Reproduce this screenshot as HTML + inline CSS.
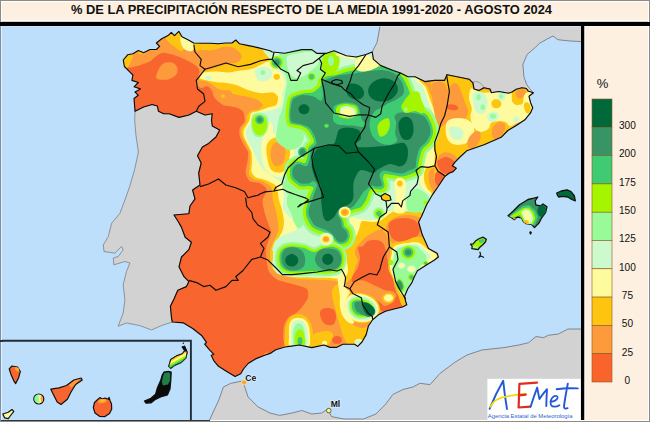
<!DOCTYPE html>
<html><head><meta charset="utf-8">
<style>
html,body{margin:0;padding:0;width:650px;height:422px;overflow:hidden;background:#fdf0e0;}
body{position:relative;font-family:"Liberation Sans",sans-serif;}
#frame{position:absolute;left:0;top:0;width:648px;height:420px;border:1px solid #8e8a86;box-shadow:inset 0 0 0 1px #fff;pointer-events:none;z-index:9}
#title{position:absolute;left:71px;top:1.7px;height:16px;line-height:16px;font-weight:bold;font-size:12.88px;color:#111;white-space:nowrap}
#map{position:absolute;left:0;top:0}
.lg{position:absolute;left:614.9px;width:25px;text-align:center;font-size:10.1px;color:#111;line-height:10px}
#pct{position:absolute;left:593.5px;top:77px;width:18px;text-align:center;font-size:13px;line-height:14px;color:#111}
</style></head><body>
<svg id="map" width="650" height="422" viewBox="0 0 650 422">
<defs>
<clipPath id="mapclip"><rect x="1" y="25" width="580" height="396"/></clipPath>
</defs>
<!-- sea -->
<rect x="1" y="25" width="580" height="396" fill="#bedffb"/>
<g id="mapg" clip-path="url(#mapclip)">

<path d="M135.0,111.3 L134.7,120.0 L135.9,134.8 L138.4,152.0 L134.7,169.3 L129.7,186.6 L124.9,200.0 L119.9,213.3 L111.6,223.3 L108.3,236.5 L103.3,244.9 L104.0,251.5 L114.9,253.2 L121.6,246.5 L123.2,249.8 L118.2,256.5 L113.3,258.0 L113.9,264.8 L124.9,261.5 L129.9,263.0 L126.5,271.4 L123.2,284.7 L124.9,299.7 L123.2,313.0 L118.2,326.2 L126.5,323.0 L139.8,325.6 L151.5,330.0 L161.4,325.6 L172.4,322.0 L171.6,318.6 L170.4,306.3 L174.0,298.9 L177.8,290.3 L186.4,286.6 L188.9,281.6 L184.0,276.7 L179.0,266.8 L181.5,257.0 L188.9,249.6 L191.4,242.2 L185.2,237.3 L181.5,227.4 L178.5,222.0 L174.0,215.0 L188.9,213.7 L190.0,206.0 L195.0,198.9 L192.6,190.0 L200.0,185.0 L198.7,173.0 L201.2,163.0 L197.5,155.7 L202.4,147.0 L208.6,143.4 L216.0,137.0 L219.7,129.9 L212.3,126.0 L211.5,120.0 L212.3,113.7 L205.0,115.0 L196.3,111.2 L188.9,115.0 L179.0,117.4 L169.2,113.7 L163.8,113.8 L158.5,111.3 L157.4,106.0 L152.1,104.5 L143.6,107.0Z" fill="#d2d2d2" stroke="#7a8088" stroke-width="0.8"/>
<path d="M372.2,52.0 L377.1,42.2 L380.0,26.0 L380.0,20.0 L590.0,20.0 L590.0,42.0 L570.0,41.0 L557.9,39.7 L553.0,36.0 L548.0,38.5 L539.4,43.4 L535.7,47.1 L527.1,54.5 L522.9,64.4 L523.9,76.7 L526.5,84.0 L529.5,88.5 L533.4,92.8 L533.4,92.8 L528.4,91.3 L526.3,88.5 L522.0,87.8 L516.3,89.2 L512.0,92.0 L508.6,93.2 L498.8,91.5 L491.4,92.7 L490.0,89.0 L484.0,87.8 L479.0,90.5 L474.0,89.0 L472.9,82.9 L469.2,79.2 L459.3,77.2 L447.0,74.7 L444.5,80.4 L434.7,80.4 L424.8,81.6 L415.0,76.7 L407.9,76.7 L400.5,73.0 L393.1,70.5 L380.8,65.6 L373.4,59.4Z" fill="#d2d2d2" stroke="#6a7078" stroke-width="0.8"/>
<path d="M208.0,425.0 L209.5,420.0 L218.8,400.0 L223.4,387.0 L230.8,383.3 L243.0,380.9 L244.4,385.8 L248.0,396.9 L257.9,406.8 L270.0,413.0 L279.7,415.4 L292.0,413.0 L301.9,410.5 L311.8,414.0 L321.6,413.0 L327.8,409.0 L331.5,416.6 L343.8,419.0 L356.2,419.0 L363.5,419.0 L375.9,414.0 L385.7,404.0 L393.0,394.4 L403.0,389.5 L412.9,387.0 L420.0,383.3 L430.0,384.6 L439.9,373.5 L454.7,362.4 L467.0,355.0 L481.8,350.0 L504.0,347.6 L518.8,345.0 L528.6,342.7 L536.0,336.5 L543.4,337.7 L548.3,335.3 L558.2,334.0 L568.0,329.0 L590.0,329.0 L590.0,425.0Z" fill="#d2d2d2" stroke="#6a7078" stroke-width="0.8"/>
<clipPath id="spclip"><path d="M135.0,111.3 L134.0,98.5 L138.3,95.3 L135.0,92.0 L140.4,88.9 L134.0,86.8 L138.3,82.5 L131.9,80.4 L132.9,75.0 L129.7,71.8 L124.4,66.5 L123.3,60.0 L127.6,54.8 L132.9,53.7 L138.3,50.5 L143.6,52.7 L150.0,49.5 L156.4,49.5 L159.6,46.3 L156.4,43.0 L161.7,38.8 L168.1,35.6 L171.3,32.4 L174.5,35.6 L178.8,31.3 L182.0,36.7 L188.4,39.9 L193.7,43.0 L202.7,43.2 L210.4,43.2 L218.0,43.8 L225.8,43.0 L232.0,43.0 L235.8,40.0 L239.6,43.8 L247.3,45.4 L257.9,47.6 L270.0,50.8 L272.3,52.0 L284.7,53.3 L302.0,49.6 L311.8,49.6 L316.7,53.3 L326.6,53.3 L334.0,50.8 L346.3,55.7 L356.2,57.0 L366.0,54.5 L372.2,52.0 L373.4,59.4 L380.8,65.6 L393.1,70.5 L400.5,73.0 L407.9,76.7 L415.0,76.7 L424.8,81.6 L434.7,80.4 L444.5,80.4 L447.0,74.7 L459.3,77.2 L469.2,79.2 L472.9,82.9 L474.0,89.0 L479.0,90.5 L484.0,87.8 L490.0,89.0 L491.4,92.7 L498.8,91.5 L508.6,93.2 L512.0,92.0 L516.3,89.2 L522.0,87.8 L526.3,88.5 L528.4,91.3 L533.4,92.8 L529.0,96.3 L530.6,102.7 L532.7,107.7 L530.6,112.7 L524.9,119.8 L516.3,125.5 L507.8,130.5 L501.2,137.3 L484.0,144.7 L466.7,150.8 L460.0,157.0 L454.8,162.4 L452.3,165.8 L456.4,168.2 L453.1,171.6 L449.0,173.2 L444.8,176.5 L438.2,186.5 L432.4,194.8 L426.6,204.7 L421.6,216.3 L418.6,222.0 L422.3,234.8 L428.5,248.4 L437.1,253.3 L438.4,257.0 L434.5,260.0 L426.0,265.3 L417.4,270.7 L414.2,277.0 L412.0,282.4 L407.8,288.8 L404.6,296.2 L405.7,301.6 L406.8,304.8 L402.5,307.0 L394.0,309.0 L385.4,311.2 L379.0,314.4 L372.6,319.7 L368.4,326.0 L366.2,334.6 L362.0,342.0 L357.7,346.4 L354.5,344.2 L342.8,344.2 L336.4,347.4 L330.0,347.4 L324.0,345.0 L311.8,347.6 L299.4,345.0 L289.6,346.4 L285.0,347.0 L275.8,349.7 L270.2,353.4 L264.7,355.2 L255.5,358.9 L248.1,363.5 L243.5,369.0 L240.7,373.7 L235.1,376.5 L225.9,370.9 L218.5,366.3 L213.9,360.8 L211.2,355.2 L213.9,354.3 L209.3,349.7 L204.7,344.2 L206.5,342.3 L201.9,335.8 L192.7,328.5 L183.5,322.9 L172.4,322.0 L171.6,318.6 L170.4,306.3 L174.0,298.9 L177.8,290.3 L186.4,286.6 L188.9,281.6 L184.0,276.7 L179.0,266.8 L181.5,257.0 L188.9,249.6 L191.4,242.2 L185.2,237.3 L181.5,227.4 L178.5,222.0 L174.0,215.0 L188.9,213.7 L190.0,206.0 L195.0,198.9 L192.6,190.0 L200.0,185.0 L198.7,173.0 L201.2,163.0 L197.5,155.7 L202.4,147.0 L208.6,143.4 L216.0,137.0 L219.7,129.9 L212.3,126.0 L211.5,120.0 L212.3,113.7 L205.0,115.0 L196.3,111.2 L188.9,115.0 L179.0,117.4 L169.2,113.7 L163.8,113.8 L158.5,111.3 L157.4,106.0 L152.1,104.5 L143.6,107.0Z"/></clipPath>
<path d="M135.0,111.3 L134.0,98.5 L138.3,95.3 L135.0,92.0 L140.4,88.9 L134.0,86.8 L138.3,82.5 L131.9,80.4 L132.9,75.0 L129.7,71.8 L124.4,66.5 L123.3,60.0 L127.6,54.8 L132.9,53.7 L138.3,50.5 L143.6,52.7 L150.0,49.5 L156.4,49.5 L159.6,46.3 L156.4,43.0 L161.7,38.8 L168.1,35.6 L171.3,32.4 L174.5,35.6 L178.8,31.3 L182.0,36.7 L188.4,39.9 L193.7,43.0 L202.7,43.2 L210.4,43.2 L218.0,43.8 L225.8,43.0 L232.0,43.0 L235.8,40.0 L239.6,43.8 L247.3,45.4 L257.9,47.6 L270.0,50.8 L272.3,52.0 L284.7,53.3 L302.0,49.6 L311.8,49.6 L316.7,53.3 L326.6,53.3 L334.0,50.8 L346.3,55.7 L356.2,57.0 L366.0,54.5 L372.2,52.0 L373.4,59.4 L380.8,65.6 L393.1,70.5 L400.5,73.0 L407.9,76.7 L415.0,76.7 L424.8,81.6 L434.7,80.4 L444.5,80.4 L447.0,74.7 L459.3,77.2 L469.2,79.2 L472.9,82.9 L474.0,89.0 L479.0,90.5 L484.0,87.8 L490.0,89.0 L491.4,92.7 L498.8,91.5 L508.6,93.2 L512.0,92.0 L516.3,89.2 L522.0,87.8 L526.3,88.5 L528.4,91.3 L533.4,92.8 L529.0,96.3 L530.6,102.7 L532.7,107.7 L530.6,112.7 L524.9,119.8 L516.3,125.5 L507.8,130.5 L501.2,137.3 L484.0,144.7 L466.7,150.8 L460.0,157.0 L454.8,162.4 L452.3,165.8 L456.4,168.2 L453.1,171.6 L449.0,173.2 L444.8,176.5 L438.2,186.5 L432.4,194.8 L426.6,204.7 L421.6,216.3 L418.6,222.0 L422.3,234.8 L428.5,248.4 L437.1,253.3 L438.4,257.0 L434.5,260.0 L426.0,265.3 L417.4,270.7 L414.2,277.0 L412.0,282.4 L407.8,288.8 L404.6,296.2 L405.7,301.6 L406.8,304.8 L402.5,307.0 L394.0,309.0 L385.4,311.2 L379.0,314.4 L372.6,319.7 L368.4,326.0 L366.2,334.6 L362.0,342.0 L357.7,346.4 L354.5,344.2 L342.8,344.2 L336.4,347.4 L330.0,347.4 L324.0,345.0 L311.8,347.6 L299.4,345.0 L289.6,346.4 L285.0,347.0 L275.8,349.7 L270.2,353.4 L264.7,355.2 L255.5,358.9 L248.1,363.5 L243.5,369.0 L240.7,373.7 L235.1,376.5 L225.9,370.9 L218.5,366.3 L213.9,360.8 L211.2,355.2 L213.9,354.3 L209.3,349.7 L204.7,344.2 L206.5,342.3 L201.9,335.8 L192.7,328.5 L183.5,322.9 L172.4,322.0 L171.6,318.6 L170.4,306.3 L174.0,298.9 L177.8,290.3 L186.4,286.6 L188.9,281.6 L184.0,276.7 L179.0,266.8 L181.5,257.0 L188.9,249.6 L191.4,242.2 L185.2,237.3 L181.5,227.4 L178.5,222.0 L174.0,215.0 L188.9,213.7 L190.0,206.0 L195.0,198.9 L192.6,190.0 L200.0,185.0 L198.7,173.0 L201.2,163.0 L197.5,155.7 L202.4,147.0 L208.6,143.4 L216.0,137.0 L219.7,129.9 L212.3,126.0 L211.5,120.0 L212.3,113.7 L205.0,115.0 L196.3,111.2 L188.9,115.0 L179.0,117.4 L169.2,113.7 L163.8,113.8 L158.5,111.3 L157.4,106.0 L152.1,104.5 L143.6,107.0Z" fill="#f9652e"/>
<g clip-path="url(#spclip)">
<path d="M118.0,62.0 C119.0,68.1 124.5,67.1 127.0,67.5 C129.5,67.9 136.6,66.1 139.3,65.4 C142.0,64.7 148.0,62.3 150.0,61.2 C152.0,60.1 154.9,56.9 156.4,55.9 C157.9,54.9 160.8,52.8 162.8,52.7 C164.8,52.6 171.2,54.2 173.4,54.8 C175.6,55.4 180.0,57.1 182.0,58.0 C184.0,58.9 188.8,61.2 190.5,62.2 C192.2,63.2 195.8,65.4 196.9,66.5 C198.0,67.6 199.6,70.0 199.5,72.0 C199.4,74.0 195.5,81.4 195.7,83.3 C195.9,85.2 199.7,87.7 201.0,88.0 C202.3,88.3 205.8,85.8 207.0,86.0 C208.2,86.2 210.7,88.6 211.6,90.0 C212.5,91.4 213.5,96.5 214.9,98.2 C216.3,99.9 220.7,103.8 223.2,104.9 C225.7,106.0 234.1,106.6 236.4,107.4 C238.7,108.2 242.0,109.9 243.0,111.5 C244.0,113.1 245.1,119.6 244.7,121.5 C244.3,123.4 240.4,126.3 239.8,128.0 C239.2,129.7 239.2,134.3 239.8,136.4 C240.4,138.5 243.7,144.5 244.7,146.3 C245.7,148.1 247.7,150.4 248.0,152.0 C248.3,153.6 248.0,157.6 247.7,160.0 C247.4,162.4 245.3,170.3 245.6,172.8 C245.9,175.3 248.2,180.1 249.9,181.3 C251.6,182.5 258.5,182.5 260.5,183.5 C262.5,184.5 266.7,187.9 266.9,189.9 C267.1,191.9 262.8,197.8 262.6,200.5 C262.4,203.2 264.1,210.3 264.8,213.3 C265.5,216.3 268.3,223.8 269.0,226.0 C269.7,228.2 271.4,230.2 271.2,232.5 C271.0,234.8 267.5,243.0 266.9,245.3 C266.3,247.6 265.6,249.0 265.8,252.0 C266.0,255.0 267.1,267.6 268.5,270.8 C269.9,274.0 274.6,278.2 277.5,279.8 C280.4,281.4 289.9,283.2 293.3,284.3 C296.7,285.4 305.1,287.2 306.8,288.8 C308.5,290.4 308.4,295.7 307.9,297.8 C307.4,299.9 303.7,305.0 302.3,306.8 C300.9,308.6 297.1,312.4 295.5,313.6 C293.9,314.8 290.1,315.7 288.8,317.0 C287.5,318.3 285.0,322.6 284.3,324.8 C283.6,327.0 283.2,333.6 283.2,336.0 C283.2,338.4 283.9,342.2 284.3,345.0 C284.7,347.8 250.2,358.2 287.0,360.0 C323.8,361.8 563.5,400.2 600.0,360.0 C636.5,319.8 656.2,55.2 600.0,15.0 C543.8,-25.2 174.2,9.5 118.0,15.0 C61.8,20.5 117.0,55.9 118.0,62.0Z" fill="#fd9a3c"/>
<path d="M156.4,78.2 C155.5,76.5 157.3,72.2 158.5,69.7 C159.7,67.2 161.5,64.5 163.8,63.3 C166.1,62.1 170.2,62.0 172.4,62.7 C174.7,63.4 176.6,65.7 177.3,67.6 C178.0,69.5 177.6,72.2 176.6,74.0 C175.6,75.8 173.4,77.2 171.3,78.2 C169.2,79.2 166.3,79.7 163.8,79.7 C161.3,79.7 157.3,79.9 156.4,78.2Z" fill="#fd9a3c"/>
<path d="M362.0,240.0 C364.0,238.0 368.7,236.3 372.0,236.0 C375.3,235.7 379.7,235.7 382.0,238.0 C384.3,240.3 385.0,246.0 386.0,250.0 C387.0,254.0 387.0,258.3 388.0,262.0 C389.0,265.7 391.0,268.0 392.0,272.0 C393.0,276.0 393.0,282.0 394.0,286.0 C395.0,290.0 396.0,293.7 398.0,296.0 C400.0,298.3 404.3,298.0 406.0,300.0 C407.7,302.0 409.7,306.3 408.0,308.0 C406.3,309.7 400.0,309.3 396.0,310.0 C392.0,310.7 387.0,312.7 384.0,312.0 C381.0,311.3 380.0,308.3 378.0,306.0 C376.0,303.7 374.7,300.0 372.0,298.0 C369.3,296.0 365.0,295.7 362.0,294.0 C359.0,292.3 355.7,290.7 354.0,288.0 C352.3,285.3 351.3,281.3 352.0,278.0 C352.7,274.7 356.3,271.3 358.0,268.0 C359.7,264.7 361.7,261.3 362.0,258.0 C362.3,254.7 360.0,251.0 360.0,248.0 C360.0,245.0 360.0,242.0 362.0,240.0Z" fill="#f9652e"/>
<path d="M320.3,311.0 C321.1,309.3 323.7,308.2 326.0,308.0 C328.3,307.8 332.3,308.3 334.0,310.0 C335.7,311.7 336.2,315.5 336.0,318.0 C335.8,320.5 334.8,323.8 333.0,324.8 C331.2,325.8 327.0,325.1 325.0,324.0 C323.0,322.9 321.8,320.2 321.0,318.0 C320.2,315.8 319.5,312.7 320.3,311.0Z" fill="#f9652e"/>
<path d="M342.0,340.0 C342.0,340.8 341.6,341.7 341.0,342.4 C340.5,343.0 339.5,343.6 338.5,343.8 C337.6,344.0 336.4,344.0 335.5,343.8 C334.5,343.6 333.5,343.0 333.0,342.4 C332.4,341.7 332.0,340.8 332.0,340.0 C332.0,339.2 332.4,338.3 333.0,337.6 C333.5,337.0 334.5,336.4 335.5,336.2 C336.4,336.0 337.6,336.0 338.5,336.2 C339.5,336.4 340.5,337.0 341.0,337.6 C341.6,338.3 342.0,339.2 342.0,340.0Z" fill="#f9652e"/>
<path d="M186.0,28.0 C159.1,29.8 186.8,42.4 188.0,45.0 C189.2,47.6 194.1,48.5 196.0,50.0 C197.9,51.5 202.8,56.1 204.0,58.0 C205.2,59.9 206.3,64.2 206.0,66.0 C205.7,67.8 201.8,71.4 201.0,73.0 C200.2,74.6 198.3,79.0 199.0,80.0 C199.7,81.0 205.0,80.9 206.6,81.5 C208.2,82.1 211.2,84.0 212.4,84.8 C213.6,85.6 216.0,87.9 217.3,88.5 C218.6,89.1 222.1,90.1 223.5,90.3 C224.9,90.5 228.5,89.9 229.6,90.3 C230.7,90.7 231.9,93.4 233.3,94.0 C234.7,94.6 239.7,95.4 241.9,95.8 C244.1,96.2 249.8,97.1 251.8,97.7 C253.8,98.3 257.9,99.9 259.2,100.8 C260.5,101.7 263.0,104.7 262.8,105.7 C262.6,106.7 259.3,108.7 257.9,109.4 C256.5,110.1 251.8,110.7 250.5,111.5 C249.2,112.3 247.3,114.8 246.8,116.0 C246.3,117.2 247.0,119.9 246.4,121.5 C245.8,123.1 241.9,128.1 241.4,129.8 C240.9,131.5 241.6,134.7 242.2,136.4 C242.8,138.1 245.5,142.9 246.4,144.7 C247.3,146.5 249.3,150.0 249.7,152.0 C250.1,154.0 250.1,159.4 250.0,162.0 C249.9,164.6 248.5,172.0 249.0,174.0 C249.5,176.0 252.5,178.7 254.0,179.5 C255.5,180.3 260.0,180.1 262.0,181.0 C264.0,181.9 269.7,184.8 271.0,187.0 C272.3,189.2 272.5,197.3 273.0,200.0 C273.5,202.7 275.1,207.4 275.7,210.0 C276.3,212.6 277.7,219.4 278.0,222.0 C278.3,224.6 278.7,229.3 278.0,232.0 C277.3,234.7 272.9,242.4 272.0,245.0 C271.1,247.6 270.0,251.3 270.0,254.0 C270.0,256.7 270.8,265.6 272.0,268.0 C273.2,270.4 276.7,273.7 280.0,275.0 C283.3,276.3 295.3,278.4 300.0,279.0 C304.7,279.6 315.8,279.8 320.0,280.0 C324.2,280.2 333.1,280.5 336.0,281.0 C338.9,281.5 343.1,284.5 345.0,284.0 C346.9,283.5 350.7,279.0 352.0,277.0 C353.3,275.0 355.3,269.0 356.0,267.0 C356.7,265.0 358.1,261.5 358.0,260.0 C357.9,258.5 355.6,255.9 355.4,254.5 C355.2,253.1 355.2,249.5 356.0,248.0 C356.8,246.5 360.6,242.9 361.9,241.5 C363.2,240.1 365.7,237.4 367.1,236.3 C368.5,235.2 372.1,233.2 373.6,232.4 C375.1,231.6 378.6,230.8 380.0,229.8 C381.4,228.8 384.4,225.8 386.0,224.0 C387.6,222.2 391.4,215.4 394.0,214.0 C396.6,212.6 404.3,212.0 408.0,212.0 C411.7,212.0 423.2,214.9 426.0,214.0 C428.8,213.1 431.2,206.6 432.0,204.0 C432.8,201.4 433.2,193.5 433.0,191.5 C432.8,189.5 431.0,188.3 430.5,187.0 C430.0,185.7 429.0,181.8 428.8,180.0 C428.6,178.2 428.6,173.3 429.0,172.0 C429.4,170.7 431.2,169.2 432.0,168.5 C432.8,167.8 435.4,167.0 436.0,166.0 C436.6,165.0 437.3,161.6 437.5,160.0 C437.7,158.4 437.9,153.6 438.0,152.0 C438.1,150.4 438.3,148.1 438.5,146.0 C438.7,143.9 439.8,137.1 440.0,134.0 C440.2,130.9 441.0,122.5 440.5,119.5 C440.0,116.5 437.0,110.5 436.0,108.0 C435.0,105.5 433.2,100.2 432.3,97.7 C431.4,95.2 429.3,89.3 428.0,87.0 C426.7,84.7 422.1,81.2 421.0,78.0 C419.9,74.8 419.2,65.6 419.0,60.0 C418.8,54.4 446.2,33.7 419.0,30.0 C391.8,26.3 212.9,26.2 186.0,28.0Z" fill="#fdc50f"/>
<path d="M338.0,284.0 C340.0,283.7 343.3,287.0 344.0,290.0 C344.7,293.0 341.8,298.0 342.0,302.0 C342.2,306.0 343.3,310.3 345.0,314.0 C346.7,317.7 349.2,321.7 352.0,324.0 C354.8,326.3 359.0,327.7 362.0,328.0 C365.0,328.3 369.0,324.7 370.0,326.0 C371.0,327.3 369.3,333.0 368.0,336.0 C366.7,339.0 365.0,342.3 362.0,344.0 C359.0,345.7 353.0,347.0 350.0,346.0 C347.0,345.0 345.7,341.3 344.0,338.0 C342.3,334.7 341.5,331.0 340.0,326.0 C338.5,321.0 336.3,313.7 335.0,308.0 C333.7,302.3 331.5,296.0 332.0,292.0 C332.5,288.0 336.0,284.3 338.0,284.0Z" fill="#fdc50f"/>
<path d="M287.0,322.0 C288.3,318.8 290.3,316.2 293.0,315.0 C295.7,313.8 300.2,313.8 303.0,315.0 C305.8,316.2 308.3,318.8 310.0,322.0 C311.7,325.2 312.8,329.7 313.0,334.0 C313.2,338.3 315.3,345.7 311.0,348.0 C306.7,350.3 291.3,350.3 287.0,348.0 C282.7,345.7 285.0,338.3 285.0,334.0 C285.0,329.7 285.7,325.2 287.0,322.0Z" fill="#fdc50f"/>
<path d="M126.5,55.9 C128.3,54.1 132.1,52.3 132.9,53.0 C133.7,53.7 132.5,57.6 131.5,60.1 C130.5,62.6 128.6,67.3 127.0,68.0 C125.4,68.7 122.1,66.0 122.0,64.0 C121.9,62.0 124.7,57.7 126.5,55.9Z" fill="#fdc50f"/>
<path d="M138.0,49.0 C139.2,48.4 145.0,49.2 146.0,50.0 C147.0,50.8 145.2,53.4 144.0,54.0 C142.8,54.6 140.0,54.3 139.0,53.5 C138.0,52.7 136.8,49.6 138.0,49.0Z" fill="#fdc50f"/>
<path d="M166.0,37.7 C166.7,36.3 171.1,34.0 173.4,34.0 C175.7,34.0 177.9,35.8 179.8,38.0 C181.7,40.2 184.9,45.1 185.0,47.3 C185.1,49.5 182.2,51.1 180.5,51.0 C178.8,50.9 176.4,48.2 174.5,46.8 C172.6,45.4 170.6,44.0 169.2,42.5 C167.8,41.0 165.3,39.1 166.0,37.7Z" fill="#fdc50f"/>
<path d="M395.0,298.0 C395.0,299.0 394.5,300.1 393.9,300.9 C393.2,301.7 392.0,302.5 390.9,302.8 C389.7,303.1 388.3,303.1 387.1,302.8 C386.0,302.5 384.8,301.7 384.1,300.9 C383.5,300.1 383.0,299.0 383.0,298.0 C383.0,297.0 383.5,295.9 384.1,295.1 C384.8,294.3 386.0,293.5 387.1,293.2 C388.3,292.9 389.7,292.9 390.9,293.2 C392.0,293.5 393.2,294.3 393.9,295.1 C394.5,295.9 395.0,297.0 395.0,298.0Z" fill="#fdc50f"/>
<path d="M196.7,51.3 C198.9,48.7 208.3,51.0 212.7,50.3 C217.2,49.5 219.8,47.4 223.4,47.1 C226.9,46.7 231.0,46.7 234.0,48.1 C237.1,49.5 240.8,53.3 241.5,55.6 C242.2,57.9 240.6,60.6 238.3,62.0 C236.0,63.4 231.2,63.2 227.6,64.1 C224.1,65.0 220.5,66.2 217.0,67.3 C213.4,68.4 209.2,70.7 206.3,70.5 C203.5,70.3 201.5,69.4 199.9,66.2 C198.3,63.0 194.6,54.0 196.7,51.3Z" fill="#fd9a3c"/>
<path d="M225.0,96.1 C225.0,96.5 224.8,96.9 224.6,97.2 C224.4,97.4 224.0,97.7 223.6,97.8 C223.2,97.9 222.8,97.9 222.4,97.8 C222.0,97.7 221.6,97.4 221.4,97.2 C221.2,96.9 221.0,96.5 221.0,96.1 C221.0,95.7 221.2,95.3 221.4,95.0 C221.6,94.8 222.0,94.5 222.4,94.4 C222.8,94.3 223.2,94.3 223.6,94.4 C224.0,94.5 224.4,94.8 224.6,95.0 C224.8,95.3 225.0,95.7 225.0,96.1Z" fill="#fdc50f"/>
<path d="M270.0,42.0 C253.0,45.5 270.8,57.6 270.3,59.9 C269.8,62.2 268.0,61.0 266.0,62.0 C264.0,63.0 256.2,67.4 253.2,68.4 C250.2,69.4 243.4,70.0 240.4,70.5 C237.4,71.0 230.3,72.5 227.6,72.6 C224.9,72.7 219.9,71.6 217.0,71.6 C214.1,71.6 205.0,72.1 203.0,72.6 C201.0,73.1 200.2,75.3 200.0,76.0 C199.8,76.7 199.0,78.3 201.0,79.0 C203.0,79.7 214.4,81.8 217.0,82.2 C219.6,82.6 220.9,82.2 223.2,82.5 C225.5,82.8 233.5,84.1 236.4,85.0 C239.3,85.9 245.1,89.0 248.0,90.0 C250.9,91.0 258.4,93.0 261.3,93.3 C264.2,93.6 271.0,92.0 272.9,92.4 C274.8,92.8 277.5,95.1 277.9,96.6 C278.3,98.1 277.4,103.6 276.2,104.9 C275.0,106.2 269.8,106.7 267.9,107.4 C266.0,108.1 261.6,110.0 259.7,110.7 C257.8,111.4 252.7,111.9 251.4,113.2 C250.1,114.5 249.8,119.6 248.9,121.5 C248.0,123.4 244.5,128.1 243.9,129.8 C243.3,131.5 243.4,134.7 243.9,136.4 C244.4,138.1 247.1,142.9 248.0,144.7 C248.9,146.5 250.9,150.0 251.4,152.0 C251.9,154.0 252.0,159.7 252.0,162.0 C252.0,164.3 251.0,170.2 251.5,172.0 C252.0,173.8 254.5,176.6 256.0,177.5 C257.5,178.4 261.7,178.5 264.0,179.5 C266.3,180.5 274.2,183.6 276.0,186.0 C277.8,188.4 278.3,197.2 279.0,200.0 C279.7,202.8 281.4,207.4 282.0,210.0 C282.6,212.6 284.0,219.4 284.0,222.0 C284.0,224.6 283.0,229.6 282.0,232.0 C281.0,234.4 276.6,240.4 275.5,243.0 C274.4,245.6 273.1,251.3 273.0,254.0 C272.9,256.7 273.9,263.8 275.0,266.0 C276.1,268.2 279.1,271.3 282.0,272.5 C284.9,273.7 295.6,275.9 300.0,276.5 C304.4,277.1 315.8,277.3 320.0,277.5 C324.2,277.7 333.3,278.2 336.0,278.5 C338.7,278.8 341.6,280.8 343.0,280.0 C344.4,279.2 347.5,274.1 348.0,272.0 C348.5,269.9 347.2,264.0 347.0,262.0 C346.8,260.0 346.7,256.1 346.3,254.5 C345.9,252.9 343.4,249.2 343.6,248.0 C343.8,246.8 346.2,245.4 347.6,244.0 C349.0,242.6 354.6,238.1 356.0,236.3 C357.4,234.5 358.6,230.2 359.3,228.5 C360.0,226.8 360.4,222.1 361.9,221.3 C363.4,220.5 369.9,222.0 372.0,222.0 C374.1,222.0 378.1,221.8 380.0,221.0 C381.9,220.2 385.9,216.4 388.0,215.0 C390.1,213.6 395.4,209.8 398.0,209.0 C400.6,208.2 407.0,207.7 410.0,208.0 C413.0,208.3 421.6,212.1 424.0,211.5 C426.4,210.9 430.1,205.2 431.0,203.0 C431.9,200.8 431.9,194.6 431.5,193.0 C431.1,191.4 428.3,190.3 427.5,189.0 C426.7,187.7 424.9,183.8 424.5,182.0 C424.1,180.2 423.8,175.6 424.0,174.0 C424.2,172.4 425.3,168.9 426.0,168.0 C426.7,167.1 429.0,167.0 430.0,166.5 C431.0,166.0 433.8,165.2 434.5,164.0 C435.2,162.8 436.1,158.0 436.0,156.0 C435.9,154.0 433.5,149.5 433.6,146.8 C433.7,144.1 436.0,136.2 436.5,133.0 C437.0,129.8 438.1,122.4 437.7,119.5 C437.3,116.6 434.5,110.5 433.5,108.0 C432.5,105.5 430.4,100.2 429.5,97.7 C428.6,95.2 426.8,89.3 425.5,87.0 C424.2,84.7 419.1,81.2 418.0,78.0 C416.9,74.8 416.2,65.6 416.0,60.0 C415.8,54.4 433.0,32.1 416.0,30.0 C399.0,27.9 287.0,38.5 270.0,42.0Z" fill="#fefb9e"/>
<path d="M363.0,342.0 C363.0,342.6 362.7,343.3 362.2,343.8 C361.8,344.2 361.0,344.7 360.2,344.9 C359.5,345.0 358.5,345.0 357.8,344.9 C357.0,344.7 356.2,344.2 355.8,343.8 C355.3,343.3 355.0,342.6 355.0,342.0 C355.0,341.4 355.3,340.7 355.8,340.2 C356.2,339.8 357.0,339.3 357.8,339.1 C358.5,339.0 359.5,339.0 360.2,339.1 C361.0,339.3 361.8,339.8 362.2,340.2 C362.7,340.7 363.0,341.4 363.0,342.0Z" fill="#fefb9e"/>
<path d="M289.5,324.0 C290.3,321.1 291.8,319.4 294.0,318.5 C296.2,317.6 300.2,317.6 302.5,318.5 C304.8,319.4 306.8,321.1 308.0,324.0 C309.2,326.9 310.0,332.1 310.0,336.0 C310.0,339.9 311.2,345.4 308.0,347.3 C304.8,349.2 293.7,349.2 290.5,347.3 C287.3,345.4 289.2,339.9 289.0,336.0 C288.8,332.1 288.7,326.9 289.5,324.0Z" fill="#fefb9e"/>
<path d="M393.5,298.0 C393.5,298.7 393.2,299.5 392.6,300.1 C392.1,300.6 391.2,301.1 390.4,301.3 C389.6,301.5 388.4,301.5 387.6,301.3 C386.8,301.1 385.9,300.6 385.4,300.1 C384.8,299.5 384.5,298.7 384.5,298.0 C384.5,297.3 384.8,296.5 385.4,295.9 C385.9,295.4 386.8,294.9 387.6,294.7 C388.4,294.5 389.6,294.5 390.4,294.7 C391.2,294.9 392.1,295.4 392.6,295.9 C393.2,296.5 393.5,297.3 393.5,298.0Z" fill="#fefb9e"/>
<path d="M180.9,36.5 C182.1,35.8 186.2,38.5 188.4,40.0 C190.6,41.5 193.6,43.4 194.2,45.2 C194.8,47.0 193.5,50.2 192.0,51.0 C190.5,51.8 187.0,50.9 185.2,49.8 C183.4,48.6 181.9,46.3 181.2,44.1 C180.5,41.9 179.7,37.2 180.9,36.5Z" fill="#fefb9e"/>
<path d="M279.9,76.9 C279.9,77.5 279.7,78.2 279.3,78.7 C278.9,79.1 278.3,79.6 277.7,79.8 C277.1,79.9 276.3,79.9 275.7,79.8 C275.1,79.6 274.5,79.1 274.1,78.7 C273.7,78.2 273.5,77.5 273.5,76.9 C273.5,76.3 273.7,75.6 274.1,75.1 C274.5,74.7 275.1,74.2 275.7,74.0 C276.3,73.9 277.1,73.9 277.7,74.0 C278.3,74.2 278.9,74.7 279.3,75.1 C279.7,75.6 279.9,76.3 279.9,76.9Z" fill="#fdc50f"/>
<path d="M384.0,222.0 C385.7,218.3 390.0,215.7 394.0,214.0 C398.0,212.3 403.3,212.0 408.0,212.0 C412.7,212.0 419.0,212.0 422.0,214.0 C425.0,216.0 425.7,219.7 426.0,224.0 C426.3,228.3 425.7,235.7 424.0,240.0 C422.3,244.3 419.7,248.2 416.0,250.0 C412.3,251.8 406.3,251.7 402.0,251.0 C397.7,250.3 393.0,248.5 390.0,246.0 C387.0,243.5 385.0,240.0 384.0,236.0 C383.0,232.0 382.3,225.7 384.0,222.0Z" fill="#fdc50f"/>
<path d="M387.0,224.0 C388.5,221.2 392.5,218.5 396.0,217.0 C399.5,215.5 404.0,214.8 408.0,215.0 C412.0,215.2 417.5,216.0 420.0,218.0 C422.5,220.0 422.8,223.5 423.0,227.0 C423.2,230.5 422.5,235.7 421.0,239.0 C419.5,242.3 417.2,245.5 414.0,247.0 C410.8,248.5 405.7,248.7 402.0,248.0 C398.3,247.3 394.5,245.3 392.0,243.0 C389.5,240.7 387.8,237.2 387.0,234.0 C386.2,230.8 385.5,226.8 387.0,224.0Z" fill="#fd9a3c"/>
<path d="M390.0,222.0 C392.2,219.8 398.0,218.3 402.0,218.0 C406.0,217.7 411.0,218.5 414.0,220.0 C417.0,221.5 419.3,224.5 420.0,227.0 C420.7,229.5 419.5,232.8 418.0,235.0 C416.5,237.2 413.8,239.3 411.0,240.5 C408.2,241.7 404.0,242.2 401.0,242.0 C398.0,241.8 395.0,240.8 393.0,239.0 C391.0,237.2 389.5,233.8 389.0,231.0 C388.5,228.2 387.8,224.2 390.0,222.0Z" fill="#f9652e"/>
<path d="M356.0,248.0 C357.1,245.8 360.0,243.4 361.9,241.5 C363.8,239.6 365.2,237.8 367.1,236.3 C369.1,234.8 371.5,233.5 373.6,232.4 C375.8,231.3 377.9,229.5 380.0,229.8 C382.1,230.1 384.3,231.3 386.0,234.0 C387.7,236.7 388.7,242.0 390.0,246.0 C391.3,250.0 393.0,254.0 394.0,258.0 C395.0,262.0 397.0,267.7 396.0,270.0 C395.0,272.3 391.0,272.3 388.0,272.0 C385.0,271.7 381.7,268.3 378.0,268.0 C374.3,267.7 369.3,268.3 366.0,270.0 C362.7,271.7 360.2,276.3 358.0,278.0 C355.8,279.7 353.5,281.7 353.0,280.0 C352.5,278.3 354.2,271.3 355.0,268.0 C355.8,264.7 357.9,262.2 358.0,260.0 C358.1,257.8 355.7,256.5 355.4,254.5 C355.1,252.5 354.9,250.2 356.0,248.0Z" fill="#fd9a3c"/>
<path d="M363.0,246.0 C364.7,244.8 365.8,242.0 368.0,241.0 C370.2,240.0 373.5,239.7 376.0,240.0 C378.5,240.3 381.3,241.0 383.0,243.0 C384.7,245.0 385.2,248.8 386.0,252.0 C386.8,255.2 387.0,258.7 388.0,262.0 C389.0,265.3 391.0,268.0 392.0,272.0 C393.0,276.0 393.0,282.0 394.0,286.0 C395.0,290.0 396.0,293.7 398.0,296.0 C400.0,298.3 404.3,298.0 406.0,300.0 C407.7,302.0 409.7,306.3 408.0,308.0 C406.3,309.7 400.0,309.3 396.0,310.0 C392.0,310.7 387.0,312.7 384.0,312.0 C381.0,311.3 380.0,308.3 378.0,306.0 C376.0,303.7 374.7,300.0 372.0,298.0 C369.3,296.0 365.0,295.7 362.0,294.0 C359.0,292.3 355.7,290.7 354.0,288.0 C352.3,285.3 351.4,281.3 352.0,278.0 C352.6,274.7 356.3,271.3 357.6,268.0 C358.9,264.7 359.9,261.3 360.0,258.0 C360.1,254.7 357.5,250.0 358.0,248.0 C358.5,246.0 361.3,247.2 363.0,246.0Z" fill="#f9652e"/>
<path d="M350.3,283.5 C352.6,282.0 357.9,279.9 362.0,280.3 C366.1,280.6 371.0,284.0 374.8,285.6 C378.5,287.2 381.2,288.8 384.4,289.9 C387.6,290.9 392.0,290.4 394.0,292.0 C395.9,293.6 397.5,297.1 396.1,299.4 C394.7,301.8 388.1,305.3 385.4,305.8 C382.8,306.4 382.2,304.0 380.1,302.6 C378.0,301.3 375.7,299.4 372.6,298.0 C369.6,296.5 365.5,294.6 362.0,294.1 C358.4,293.7 353.6,296.1 351.3,295.2 C349.0,294.3 348.3,290.7 348.1,288.8 C347.9,286.8 347.9,284.9 350.3,283.5Z" fill="#fd9a3c"/>
<path d="M394.0,298.4 C395.2,296.8 398.2,295.5 400.4,296.2 C402.6,297.0 406.5,300.9 407.2,302.6 C407.9,304.3 406.3,305.6 404.6,306.5 C403.0,307.4 399.1,308.3 397.2,308.2 C395.2,308.1 393.4,307.5 392.9,305.8 C392.4,304.2 392.7,300.0 394.0,298.4Z" fill="#f9652e"/>
<path d="M394.7,298.0 C394.7,299.0 394.2,300.1 393.5,300.9 C392.8,301.7 391.6,302.5 390.4,302.8 C389.3,303.1 387.7,303.1 386.6,302.8 C385.4,302.5 384.2,301.7 383.5,300.9 C382.8,300.1 382.3,299.0 382.3,298.0 C382.3,297.0 382.8,295.9 383.5,295.1 C384.2,294.3 385.4,293.5 386.6,293.2 C387.7,292.9 389.3,292.9 390.4,293.2 C391.6,293.5 392.8,294.3 393.5,295.1 C394.2,295.9 394.7,297.0 394.7,298.0Z" fill="#fdc50f"/>
<path d="M393.1,298.0 C393.1,298.7 392.8,299.5 392.2,300.1 C391.7,300.7 390.8,301.2 389.9,301.4 C389.1,301.6 387.9,301.6 387.1,301.4 C386.2,301.2 385.3,300.7 384.8,300.1 C384.2,299.5 383.9,298.7 383.9,298.0 C383.9,297.3 384.2,296.5 384.8,295.9 C385.3,295.3 386.2,294.8 387.1,294.6 C387.9,294.4 389.1,294.4 389.9,294.6 C390.8,294.8 391.7,295.3 392.2,295.9 C392.8,296.5 393.1,297.3 393.1,298.0Z" fill="#fefb9e"/>
<path d="M268.0,40.0 C251.2,43.4 269.7,55.7 270.0,58.8 C270.3,61.9 269.0,64.6 270.3,66.2 C271.6,67.8 279.3,70.6 281.0,72.6 C282.7,74.6 285.1,80.8 285.2,83.3 C285.3,85.8 282.3,92.4 282.0,94.0 C281.7,95.6 283.2,95.5 283.0,97.0 C282.8,98.5 281.6,105.0 280.4,106.5 C279.2,108.0 275.0,109.3 273.0,109.9 C271.0,110.5 265.1,111.0 263.0,111.5 C260.9,112.0 256.1,112.8 254.7,114.0 C253.3,115.2 252.4,119.7 251.4,121.5 C250.4,123.3 247.0,128.1 246.4,129.8 C245.8,131.5 246.0,134.7 246.4,136.4 C246.8,138.1 248.9,143.1 249.7,144.7 C250.5,146.3 252.3,148.4 253.0,150.0 C253.7,151.6 254.9,155.9 256.0,158.0 C257.1,160.1 260.1,165.9 262.0,168.0 C263.9,170.1 269.7,174.2 272.0,176.0 C274.3,177.8 280.4,181.1 281.8,183.5 C283.2,185.9 283.9,193.2 284.0,196.2 C284.1,199.2 282.2,206.5 282.9,209.0 C283.6,211.5 288.8,215.8 290.4,217.6 C292.0,219.3 296.2,222.5 296.8,224.0 C297.4,225.5 297.2,229.2 295.7,230.4 C294.2,231.6 286.4,233.4 284.0,234.6 C281.6,235.8 276.8,239.2 275.4,241.0 C274.0,242.8 272.4,248.7 272.2,250.0 C272.0,251.3 273.7,250.5 273.7,252.2 C273.7,253.9 272.0,262.2 272.4,264.7 C272.8,267.2 275.1,272.0 277.4,273.4 C279.7,274.8 287.7,276.5 292.3,277.0 C296.9,277.5 312.0,277.7 317.2,277.6 C322.4,277.5 334.1,276.9 337.0,276.0 C339.9,275.1 341.3,271.6 342.0,269.7 C342.7,267.8 343.4,262.0 343.4,259.7 C343.4,257.4 341.7,251.3 342.0,249.7 C342.3,248.1 344.8,247.0 346.0,246.0 C347.2,245.0 351.1,242.4 352.0,241.0 C352.9,239.6 353.6,235.6 353.5,234.0 C353.4,232.4 351.6,228.5 351.0,227.0 C350.4,225.5 348.4,222.2 348.5,221.0 C348.6,219.8 350.4,217.2 352.0,217.0 C353.6,216.8 359.7,219.2 362.0,219.5 C364.3,219.8 369.9,220.2 372.0,220.0 C374.1,219.8 378.5,218.8 380.0,218.0 C381.5,217.2 383.6,213.8 384.5,213.0 C385.4,212.2 385.8,211.2 387.3,211.0 C388.8,210.8 394.1,211.4 397.3,211.5 C400.5,211.6 411.6,211.4 414.7,211.5 C417.8,211.6 422.0,213.0 424.0,212.0 C426.0,211.0 431.3,205.0 432.0,203.0 C432.7,201.0 430.8,195.9 430.0,194.5 C429.2,193.1 426.1,192.2 425.0,191.0 C423.9,189.8 421.1,185.8 420.5,184.0 C419.9,182.2 419.7,177.9 419.8,176.0 C419.9,174.1 420.9,170.1 421.0,168.0 C421.1,165.9 420.6,159.8 420.8,158.0 C421.0,156.2 421.8,154.2 422.7,152.3 C423.6,150.4 426.9,143.9 428.2,141.4 C429.5,138.9 432.8,133.1 433.6,130.5 C434.4,127.9 435.3,122.1 435.0,119.5 C434.7,116.9 431.9,111.1 430.9,108.6 C429.9,106.1 427.8,100.2 426.8,97.7 C425.8,95.2 424.1,89.0 422.7,86.8 C421.3,84.6 415.5,81.7 414.5,78.6 C413.5,75.5 414.1,65.7 414.0,60.0 C413.9,54.3 431.0,32.3 414.0,30.0 C397.0,27.7 284.8,36.6 268.0,40.0Z" fill="#cdf9ce"/>
<path d="M255.0,70.0 C255.7,67.8 259.5,67.2 262.0,67.0 C264.5,66.8 268.3,67.5 270.0,69.0 C271.7,70.5 272.7,74.0 272.0,76.0 C271.3,78.0 268.3,80.3 266.0,81.0 C263.7,81.7 259.8,81.8 258.0,80.0 C256.2,78.2 254.3,72.2 255.0,70.0Z" fill="#cdf9ce"/>
<path d="M211.5,78.0 C211.5,78.4 211.3,78.9 210.9,79.3 C210.6,79.6 210.0,80.0 209.4,80.1 C208.9,80.2 208.1,80.2 207.6,80.1 C207.0,80.0 206.4,79.6 206.1,79.3 C205.7,78.9 205.5,78.4 205.5,78.0 C205.5,77.6 205.7,77.1 206.1,76.7 C206.4,76.4 207.0,76.0 207.6,75.9 C208.1,75.8 208.9,75.8 209.4,75.9 C210.0,76.0 210.6,76.4 210.9,76.7 C211.3,77.1 211.5,77.6 211.5,78.0Z" fill="#cdf9ce"/>
<path d="M291.5,328.0 C292.1,324.8 292.8,322.2 294.5,321.0 C296.2,319.8 299.6,319.7 301.5,320.5 C303.4,321.3 304.9,323.1 306.0,326.0 C307.1,328.9 308.0,334.4 308.0,338.0 C308.0,341.6 308.6,345.8 306.0,347.3 C303.4,348.9 295.0,348.5 292.5,347.3 C290.0,346.1 291.2,343.2 291.0,340.0 C290.8,336.8 290.9,331.2 291.5,328.0Z" fill="#cdf9ce"/>
<path d="M264.6,124.8 C265.4,122.8 268.6,121.5 270.0,122.0 C271.4,122.5 272.7,125.6 273.0,128.0 C273.3,130.4 272.8,134.4 272.0,136.4 C271.2,138.4 269.2,140.4 268.0,140.0 C266.8,139.6 265.6,136.5 265.0,134.0 C264.4,131.5 263.8,126.8 264.6,124.8Z" fill="#fefb9e"/>
<path d="M262.0,140.0 C263.0,135.7 265.0,135.0 268.0,134.0 C271.0,133.0 276.3,133.3 280.0,134.0 C283.7,134.7 287.7,135.7 290.0,138.0 C292.3,140.3 293.5,144.0 294.0,148.0 C294.5,152.0 294.0,157.7 293.0,162.0 C292.0,166.3 290.5,171.5 288.0,174.0 C285.5,176.5 281.3,177.3 278.0,177.0 C274.7,176.7 270.7,174.8 268.0,172.0 C265.3,169.2 263.0,165.3 262.0,160.0 C261.0,154.7 261.0,144.3 262.0,140.0Z" fill="#fefb9e"/>
<path d="M266.3,150.0 C266.1,145.5 267.4,143.1 269.0,141.0 C270.6,138.9 273.3,137.7 276.0,137.4 C278.7,137.1 282.7,137.2 285.0,139.0 C287.3,140.8 289.1,144.5 289.8,148.0 C290.5,151.5 289.8,156.3 289.0,160.0 C288.2,163.7 286.8,167.9 285.0,170.0 C283.2,172.1 280.5,172.9 278.0,172.6 C275.5,172.3 271.9,171.8 270.0,168.0 C268.1,164.2 266.5,154.5 266.3,150.0Z" fill="#fdc50f"/>
<path d="M270.6,152.0 C270.8,149.1 271.6,146.2 273.0,144.5 C274.4,142.8 277.2,141.8 279.0,141.7 C280.8,141.6 282.9,142.4 284.0,144.0 C285.1,145.6 285.4,148.3 285.5,151.0 C285.6,153.7 285.2,157.7 284.5,160.0 C283.8,162.3 282.4,164.0 281.0,165.0 C279.6,166.0 277.5,166.7 276.0,166.2 C274.5,165.7 272.9,164.4 272.0,162.0 C271.1,159.6 270.4,154.9 270.6,152.0Z" fill="#fd9a3c"/>
<path d="M300.0,194.0 C300.7,193.0 302.6,192.7 304.0,193.0 C305.4,193.3 307.8,194.7 308.5,196.0 C309.2,197.3 308.9,200.0 308.0,201.0 C307.1,202.0 304.3,202.3 303.0,202.0 C301.7,201.7 300.5,200.3 300.0,199.0 C299.5,197.7 299.3,195.0 300.0,194.0Z" fill="#fefb9e"/>
<path d="M430.9,73.2 C433.7,71.1 443.3,74.0 447.8,74.5 C452.4,75.1 454.6,75.4 458.2,76.5 C461.7,77.5 465.9,79.1 469.1,80.8 C472.3,82.5 473.6,85.1 477.3,86.8 C480.9,88.5 486.8,90.5 490.9,90.9 C495.0,91.4 498.6,89.5 501.8,89.5 C505.0,89.5 507.3,91.6 510.0,90.9 C512.7,90.2 514.5,85.7 518.2,85.5 C521.8,85.2 529.5,87.0 531.8,89.5 C534.1,92.0 532.7,97.3 531.8,100.5 C530.9,103.6 527.7,105.9 526.4,108.6 C525.0,111.4 525.4,114.3 523.6,116.8 C521.8,119.3 517.5,121.6 515.4,123.6 C513.4,125.7 513.2,126.6 511.4,129.1 C509.5,131.6 507.5,136.1 504.5,138.6 C501.6,141.1 497.3,142.7 493.6,144.1 C490.0,145.4 486.4,145.4 482.7,146.8 C479.1,148.2 475.4,150.4 471.8,152.3 C468.2,154.1 463.9,155.7 460.9,157.7 C457.9,159.8 456.1,161.8 454.1,164.5 C452.0,167.3 450.7,171.6 448.6,174.1 C446.6,176.6 444.1,178.6 441.8,179.5 C439.5,180.4 436.3,181.4 435.0,179.5 C433.7,177.7 434.2,173.2 434.2,168.6 C434.2,164.1 434.7,157.3 435.0,152.3 C435.3,147.3 435.1,142.5 435.8,138.6 C436.5,134.8 438.3,132.3 439.1,129.1 C439.9,125.9 440.9,122.9 440.4,119.5 C440.0,116.1 437.5,112.3 436.4,108.6 C435.2,105.0 434.5,101.4 433.6,97.7 C432.7,94.1 431.4,90.9 430.9,86.8 C430.5,82.7 428.1,75.2 430.9,73.2Z" fill="#fdc50f"/>
<path d="M431.7,84.6 C432.7,82.4 435.6,81.5 437.7,81.4 C439.9,81.2 442.9,82.2 444.5,83.5 C446.2,84.9 446.7,89.4 447.8,89.5 C448.9,89.7 449.9,85.6 451.4,84.6 C452.9,83.6 455.1,82.3 456.8,83.5 C458.5,84.8 460.0,89.0 461.4,92.3 C462.9,95.5 464.1,99.9 465.3,103.2 C466.4,106.5 468.4,109.2 468.3,111.9 C468.1,114.6 466.1,117.6 464.2,119.5 C462.3,121.5 459.4,123.2 456.8,123.6 C454.2,124.1 450.9,121.9 448.6,122.3 C446.4,122.6 444.9,125.0 443.2,125.5 C441.5,126.1 439.8,126.5 438.5,125.5 C437.3,124.5 436.6,122.4 435.8,119.5 C435.0,116.7 434.3,112.7 433.6,108.6 C433.0,104.5 432.3,99.0 432.0,95.0 C431.7,91.0 430.8,86.9 431.7,84.6Z" fill="#fd9a3c"/>
<path d="M458.3,108.2 C458.3,108.7 457.7,109.3 456.9,109.7 C456.2,110.0 454.9,110.3 453.7,110.3 C452.5,110.3 451.0,110.1 449.9,109.8 C448.8,109.4 447.6,108.8 447.0,108.3 C446.4,107.7 446.0,107.0 446.1,106.4 C446.1,105.9 446.7,105.3 447.5,104.9 C448.2,104.6 449.5,104.3 450.7,104.3 C451.9,104.3 453.4,104.5 454.5,104.8 C455.6,105.2 456.8,105.8 457.4,106.3 C458.0,106.9 458.4,107.6 458.3,108.2Z" fill="#f9652e"/>
<path d="M437.7,157.7 C439.1,155.2 441.8,152.7 444.5,152.3 C447.3,151.8 451.6,153.2 454.1,155.0 C456.6,156.8 459.1,160.2 459.5,163.2 C460.0,166.1 458.6,170.4 456.8,172.7 C455.0,175.0 451.4,176.4 448.6,176.8 C445.9,177.3 442.5,177.0 440.4,175.4 C438.4,173.9 436.8,170.2 436.4,167.3 C435.9,164.3 436.4,160.2 437.7,157.7Z" fill="#fd9a3c"/>
<path d="M439.6,161.8 C440.5,159.9 442.6,157.4 444.5,156.9 C446.5,156.4 449.3,157.8 451.4,159.1 C453.4,160.4 456.1,162.7 456.8,164.5 C457.5,166.4 456.8,168.4 455.4,170.0 C454.1,171.6 450.7,173.6 448.6,174.1 C446.6,174.5 444.8,173.6 443.2,172.7 C441.6,171.8 439.7,170.4 439.1,168.6 C438.5,166.8 438.7,163.8 439.6,161.8Z" fill="#f9652e"/>
<path d="M471.8,88.2 C473.5,88.2 476.8,91.6 480.0,92.3 C483.2,93.0 487.3,92.5 490.9,92.3 C494.5,92.0 498.6,91.1 501.8,90.9 C505.0,90.7 507.3,91.8 510.0,90.9 C512.7,90.0 513.9,86.1 518.2,85.5 C522.5,84.8 532.9,82.7 535.9,86.8 C538.9,90.9 537.7,104.5 535.9,110.0 C534.1,115.4 528.3,117.3 525.0,119.5 C521.7,121.8 518.5,122.5 516.0,123.6 C513.5,124.8 511.7,126.6 510.0,126.4 C508.3,126.1 507.7,123.2 505.9,122.3 C504.1,121.4 501.5,120.8 499.1,120.9 C496.7,121.0 493.3,121.4 491.4,122.8 C489.6,124.2 490.1,127.6 488.2,129.1 C486.3,130.6 482.5,132.3 480.0,131.8 C477.5,131.4 474.8,128.9 473.2,126.4 C471.6,123.9 470.7,119.8 470.4,116.8 C470.2,113.9 472.0,111.6 471.8,108.6 C471.6,105.7 469.4,101.8 469.1,99.1 C468.7,96.4 469.2,94.1 469.6,92.3 C470.1,90.5 470.1,88.2 471.8,88.2Z" fill="#fefb9e"/>
<path d="M446.4,123.3 C447.5,120.4 450.0,119.4 452.8,118.6 C455.6,117.8 460.3,117.8 463.5,118.6 C466.7,119.4 470.2,121.1 472.0,123.3 C473.8,125.5 474.5,129.0 474.1,131.8 C473.8,134.7 472.0,138.2 469.9,140.4 C467.7,142.5 464.3,144.1 461.3,144.6 C458.3,145.2 454.2,145.0 451.7,143.6 C449.2,142.1 447.3,139.5 446.4,136.1 C445.5,132.7 445.3,126.2 446.4,123.3Z" fill="#fefb9e"/>
<path d="M473.2,93.6 C474.3,92.0 477.9,91.5 480.0,91.7 C482.0,92.0 484.2,93.1 485.4,95.0 C486.7,96.9 487.6,100.5 487.6,103.2 C487.6,105.9 486.7,109.5 485.4,111.4 C484.2,113.2 481.7,114.3 480.0,114.1 C478.3,113.9 476.2,112.0 475.1,110.0 C473.9,108.0 473.5,104.5 473.2,101.8 C472.9,99.1 472.0,95.3 473.2,93.6Z" fill="#cdf9ce"/>
<path d="M487.6,114.1 C488.6,112.8 491.8,111.4 493.6,111.4 C495.4,111.4 497.9,112.7 498.5,114.1 C499.2,115.4 498.9,118.2 497.7,119.5 C496.5,120.9 493.1,122.4 491.4,122.3 C489.8,122.2 488.3,120.4 487.6,119.0 C487.0,117.6 486.6,115.4 487.6,114.1Z" fill="#cdf9ce"/>
<path d="M449.4,128.3 C450.4,126.9 453.4,126.2 455.4,126.4 C457.4,126.5 460.1,127.7 461.4,129.1 C462.8,130.4 463.8,132.9 463.6,134.5 C463.4,136.2 461.9,138.4 460.4,139.2 C458.8,139.9 455.8,139.9 454.1,139.2 C452.4,138.4 450.8,136.4 450.0,134.5 C449.2,132.7 448.5,129.6 449.4,128.3Z" fill="#cdf9ce"/>
<path d="M499.1,92.3 C500.1,91.6 503.4,91.2 504.5,91.7 C505.7,92.3 506.4,94.5 505.9,95.5 C505.4,96.5 503.0,97.7 501.8,97.7 C500.6,97.7 499.0,96.5 498.5,95.5 C498.1,94.6 498.1,92.9 499.1,92.3Z" fill="#cdf9ce"/>
<path d="M480.9,97.2 C480.9,97.8 480.8,98.5 480.5,98.9 C480.2,99.4 479.8,99.9 479.3,100.0 C478.9,100.2 478.3,100.2 477.9,100.0 C477.5,99.9 477.0,99.4 476.8,98.9 C476.5,98.5 476.3,97.8 476.3,97.2 C476.3,96.6 476.5,95.9 476.8,95.4 C477.0,94.9 477.5,94.5 477.9,94.3 C478.3,94.1 478.9,94.1 479.3,94.3 C479.8,94.5 480.2,94.9 480.5,95.4 C480.8,95.9 480.9,96.6 480.9,97.2Z" fill="#98fb98"/>
<path d="M485.0,107.3 C485.0,107.8 484.8,108.5 484.6,108.9 C484.3,109.4 483.9,109.8 483.4,109.9 C483.0,110.1 482.4,110.1 482.0,109.9 C481.6,109.8 481.1,109.4 480.9,108.9 C480.6,108.5 480.4,107.8 480.4,107.3 C480.4,106.7 480.6,106.1 480.9,105.6 C481.1,105.2 481.6,104.8 482.0,104.6 C482.4,104.4 483.0,104.4 483.4,104.6 C483.9,104.8 484.3,105.2 484.6,105.6 C484.8,106.1 485.0,106.7 485.0,107.3Z" fill="#98fb98"/>
<path d="M496.3,116.3 C496.3,116.8 496.0,117.4 495.7,117.8 C495.3,118.2 494.7,118.6 494.1,118.7 C493.5,118.9 492.7,118.9 492.1,118.7 C491.5,118.6 490.9,118.2 490.5,117.8 C490.1,117.4 489.9,116.8 489.9,116.3 C489.9,115.8 490.1,115.2 490.5,114.7 C490.9,114.3 491.5,114.0 492.1,113.8 C492.7,113.6 493.5,113.6 494.1,113.8 C494.7,114.0 495.3,114.3 495.7,114.7 C496.0,115.2 496.3,115.8 496.3,116.3Z" fill="#98fb98"/>
<path d="M504.4,94.5 C504.4,94.8 504.2,95.3 504.0,95.6 C503.7,95.9 503.3,96.2 503.0,96.4 C502.6,96.5 502.1,96.5 501.7,96.4 C501.4,96.2 501.0,95.9 500.7,95.6 C500.5,95.3 500.4,94.8 500.4,94.5 C500.4,94.1 500.5,93.6 500.7,93.3 C501.0,93.0 501.4,92.7 501.7,92.5 C502.1,92.4 502.6,92.4 503.0,92.5 C503.3,92.7 503.7,93.0 504.0,93.3 C504.2,93.6 504.4,94.1 504.4,94.5Z" fill="#98fb98"/>
<path d="M501.4,103.7 C501.4,104.6 501.0,105.7 500.4,106.4 C499.8,107.2 498.8,107.8 497.9,108.1 C497.0,108.4 495.7,108.4 494.8,108.1 C493.9,107.8 492.9,107.2 492.3,106.4 C491.7,105.7 491.4,104.6 491.4,103.7 C491.4,102.8 491.7,101.7 492.3,101.0 C492.9,100.3 493.9,99.6 494.8,99.3 C495.7,99.1 497.0,99.1 497.9,99.3 C498.8,99.6 499.8,100.3 500.4,101.0 C501.0,101.7 501.4,102.8 501.4,103.7Z" fill="#fdc50f"/>
<path d="M284.0,47.0 C280.8,48.5 279.7,52.8 279.0,56.0 C278.3,59.2 279.2,63.3 280.0,66.0 C280.8,68.7 282.8,69.3 284.0,72.0 C285.2,74.7 286.8,78.3 287.0,82.0 C287.2,85.7 285.5,90.7 285.0,94.0 C284.5,97.3 284.5,99.3 284.0,102.0 C283.5,104.7 282.8,107.3 282.0,110.0 C281.2,112.7 279.8,114.7 279.0,118.0 C278.2,121.3 277.5,126.3 277.0,130.0 C276.5,133.7 275.2,137.3 276.0,140.0 C276.8,142.7 279.7,144.3 282.0,146.0 C284.3,147.7 287.0,150.0 290.0,150.0 C293.0,150.0 297.7,148.3 300.0,146.0 C302.3,143.7 304.0,139.3 304.0,136.0 C304.0,132.7 302.0,129.0 300.0,126.0 C298.0,123.0 293.3,121.3 292.0,118.0 C290.7,114.7 291.3,109.7 292.0,106.0 C292.7,102.3 293.7,98.3 296.0,96.0 C298.3,93.7 302.7,93.3 306.0,92.0 C309.3,90.7 313.3,90.0 316.0,88.0 C318.7,86.0 320.3,83.0 322.0,80.0 C323.7,77.0 323.0,72.3 326.0,70.0 C329.0,67.7 335.3,66.7 340.0,66.0 C344.7,65.3 350.7,67.0 354.0,66.0 C357.3,65.0 359.7,62.0 360.0,60.0 C360.3,58.0 358.7,55.3 356.0,54.0 C353.3,52.7 348.3,52.8 344.0,52.0 C339.7,51.2 335.3,49.8 330.0,49.0 C324.7,48.2 317.3,47.3 312.0,47.0 C306.7,46.7 302.7,47.0 298.0,47.0 C293.3,47.0 287.2,45.5 284.0,47.0Z" fill="#98fb98"/>
<path d="M252.0,116.0 C253.1,113.5 255.7,113.2 258.0,113.0 C260.3,112.8 264.2,113.5 266.0,115.0 C267.8,116.5 268.3,119.3 268.5,122.0 C268.7,124.7 268.1,128.6 267.0,131.0 C265.9,133.4 264.0,135.6 262.0,136.4 C260.0,137.2 256.8,137.4 255.0,136.0 C253.2,134.6 251.9,131.3 251.4,128.0 C250.9,124.7 250.9,118.5 252.0,116.0Z" fill="#98fb98"/>
<path d="M265.3,72.6 C265.3,73.1 265.1,73.7 264.8,74.1 C264.5,74.5 264.0,74.8 263.6,75.0 C263.1,75.1 262.5,75.1 262.0,75.0 C261.6,74.8 261.1,74.5 260.8,74.1 C260.5,73.7 260.3,73.1 260.3,72.6 C260.3,72.1 260.5,71.5 260.8,71.1 C261.1,70.7 261.6,70.4 262.0,70.2 C262.5,70.1 263.1,70.1 263.6,70.2 C264.0,70.4 264.5,70.7 264.8,71.1 C265.1,71.5 265.3,72.1 265.3,72.6Z" fill="#98fb98"/>
<path d="M293.5,330.0 C294.1,327.3 295.2,325.0 296.5,324.0 C297.8,323.0 299.8,323.2 301.0,324.0 C302.2,324.8 303.2,326.3 304.0,329.0 C304.8,331.7 305.4,336.9 305.5,340.0 C305.6,343.1 306.3,346.1 304.5,347.3 C302.7,348.5 296.4,348.5 294.5,347.3 C292.6,346.1 293.2,342.9 293.0,340.0 C292.8,337.1 292.9,332.7 293.5,330.0Z" fill="#98fb98"/>
<path d="M283.0,182.0 C284.3,180.3 288.5,179.7 292.0,180.0 C295.5,180.3 300.3,182.7 304.0,184.0 C307.7,185.3 312.0,186.0 314.0,188.0 C316.0,190.0 316.7,194.0 316.0,196.0 C315.3,198.0 312.7,199.5 310.0,200.0 C307.3,200.5 303.3,199.7 300.0,199.0 C296.7,198.3 292.7,197.5 290.0,196.0 C287.3,194.5 285.2,192.3 284.0,190.0 C282.8,187.7 281.7,183.7 283.0,182.0Z" fill="#98fb98"/>
<path d="M374.0,176.0 C374.7,173.7 378.7,171.3 382.0,170.0 C385.3,168.7 390.3,168.0 394.0,168.0 C397.7,168.0 401.3,168.7 404.0,170.0 C406.7,171.3 410.0,174.3 410.0,176.0 C410.0,177.7 406.7,179.7 404.0,180.0 C401.3,180.3 397.0,177.7 394.0,178.0 C391.0,178.3 388.7,181.0 386.0,182.0 C383.3,183.0 380.0,185.0 378.0,184.0 C376.0,183.0 373.3,178.3 374.0,176.0Z" fill="#98fb98"/>
<path d="M384.8,213.5 C384.8,214.7 384.3,216.1 383.7,217.0 C383.0,218.0 381.8,218.8 380.7,219.2 C379.5,219.6 378.1,219.6 376.9,219.2 C375.8,218.8 374.6,218.0 373.9,217.0 C373.3,216.1 372.8,214.7 372.8,213.5 C372.8,212.3 373.3,210.9 373.9,210.0 C374.6,209.0 375.8,208.2 376.9,207.8 C378.1,207.4 379.5,207.4 380.7,207.8 C381.8,208.2 383.0,209.0 383.7,210.0 C384.3,210.9 384.8,212.3 384.8,213.5Z" fill="#98fb98"/>
<path d="M383.2,213.5 C383.2,214.4 382.9,215.4 382.4,216.1 C381.9,216.8 381.0,217.4 380.2,217.7 C379.3,218.0 378.3,218.0 377.4,217.7 C376.6,217.4 375.7,216.8 375.2,216.1 C374.7,215.4 374.4,214.4 374.4,213.5 C374.4,212.6 374.7,211.6 375.2,210.9 C375.7,210.2 376.6,209.6 377.4,209.3 C378.3,209.0 379.3,209.0 380.2,209.3 C381.0,209.6 381.9,210.2 382.4,210.9 C382.9,211.6 383.2,212.6 383.2,213.5Z" fill="#a6f500"/>
<path d="M381.5,213.5 C381.5,214.0 381.3,214.7 381.0,215.1 C380.7,215.5 380.1,215.9 379.6,216.1 C379.1,216.2 378.5,216.2 378.0,216.1 C377.5,215.9 376.9,215.5 376.6,215.1 C376.3,214.7 376.1,214.0 376.1,213.5 C376.1,213.0 376.3,212.3 376.6,211.9 C376.9,211.5 377.5,211.1 378.0,210.9 C378.5,210.8 379.1,210.8 379.6,210.9 C380.1,211.1 380.7,211.5 381.0,211.9 C381.3,212.3 381.5,213.0 381.5,213.5Z" fill="#3ecb71"/>
<path d="M288.1,194.5 C289.4,192.3 293.1,191.6 295.2,191.9 C297.3,192.2 299.2,194.1 300.5,196.3 C301.9,198.5 302.4,201.9 303.2,205.2 C303.9,208.5 305.0,212.6 305.0,215.9 C305.0,219.1 304.2,222.7 303.2,224.7 C302.2,226.8 300.2,228.6 298.7,228.3 C297.3,228.0 295.5,225.3 294.3,223.0 C293.1,220.6 292.8,217.0 291.6,214.1 C290.5,211.1 287.8,208.5 287.2,205.2 C286.6,201.9 286.8,196.8 288.1,194.5Z" fill="#98fb98"/>
<path d="M288.0,56.0 C290.2,54.5 296.0,53.7 300.0,53.0 C304.0,52.3 308.7,51.5 312.0,52.0 C315.3,52.5 319.0,54.0 320.0,56.0 C321.0,58.0 319.3,61.7 318.0,64.0 C316.7,66.3 314.3,68.0 312.0,70.0 C309.7,72.0 306.7,74.7 304.0,76.0 C301.3,77.3 298.5,78.7 296.0,78.0 C293.5,77.3 290.5,74.7 289.0,72.0 C287.5,69.3 287.2,64.7 287.0,62.0 C286.8,59.3 285.8,57.5 288.0,56.0Z" fill="#cdf9ce"/>
<path d="M336.0,56.0 C337.8,55.0 342.7,54.7 346.0,55.0 C349.3,55.3 354.0,56.5 356.0,58.0 C358.0,59.5 359.0,62.5 358.0,64.0 C357.0,65.5 353.0,66.7 350.0,67.0 C347.0,67.3 342.5,67.0 340.0,66.0 C337.5,65.0 335.7,62.7 335.0,61.0 C334.3,59.3 334.2,57.0 336.0,56.0Z" fill="#cdf9ce"/>
<path d="M288.8,115.8 C288.7,113.5 289.1,108.4 289.5,106.0 C289.9,103.6 290.2,99.2 292.0,97.5 C293.8,95.8 300.0,94.2 302.7,93.5 C305.4,92.8 310.1,93.0 312.0,92.5 C313.9,92.0 315.9,90.4 317.0,89.5 C318.1,88.6 320.0,87.0 320.6,85.8 C321.2,84.6 320.7,81.8 321.5,80.5 C322.3,79.2 324.9,76.9 326.8,76.2 C328.7,75.5 332.8,75.8 335.4,75.2 C338.0,74.6 343.4,72.7 346.0,72.0 C348.6,71.3 352.2,70.4 355.0,69.9 C357.8,69.4 363.4,68.5 367.0,68.0 C370.6,67.5 378.3,66.2 382.0,66.5 C385.7,66.8 392.2,68.5 395.0,70.0 C397.8,71.5 401.3,75.6 403.0,78.0 C404.7,80.4 407.1,85.5 408.0,88.0 C408.9,90.5 410.7,94.7 410.0,97.0 C409.3,99.3 403.6,103.5 402.5,105.0 C401.4,106.5 401.7,107.7 402.0,108.5 C402.3,109.3 403.0,110.7 404.8,111.0 C406.6,111.3 412.6,110.6 415.4,111.0 C418.2,111.4 423.9,112.5 426.0,114.2 C428.1,115.9 430.5,121.2 431.4,123.8 C432.3,126.4 433.4,130.8 433.0,133.4 C432.6,136.0 430.1,140.9 428.7,143.0 C427.3,145.1 423.6,147.3 422.3,149.4 C421.0,151.5 419.9,156.6 419.3,159.0 C418.7,161.4 418.2,165.9 418.0,167.5 C417.8,169.1 418.4,170.1 417.5,171.0 C416.6,171.9 413.1,173.3 411.0,174.0 C408.9,174.7 404.5,176.4 402.0,176.5 C399.5,176.6 394.3,175.3 392.0,175.0 C389.7,174.7 386.2,173.6 385.0,174.0 C383.8,174.4 383.1,176.4 383.0,178.0 C382.9,179.6 384.8,184.5 384.5,186.0 C384.2,187.5 382.7,189.2 381.0,189.5 C379.3,189.8 373.6,188.2 372.0,188.5 C370.4,188.8 369.8,190.5 369.0,192.0 C368.2,193.5 367.1,198.0 366.0,200.0 C364.9,202.0 362.5,205.8 361.0,207.0 C359.5,208.2 356.6,208.5 355.0,209.0 C353.4,209.5 350.7,210.5 349.0,211.0 C347.3,211.5 343.1,212.3 342.0,213.0 C340.9,213.7 340.4,215.1 340.5,216.0 C340.6,216.9 342.5,218.6 343.0,220.0 C343.5,221.4 343.8,225.2 344.5,226.5 C345.2,227.8 347.6,228.7 348.3,230.0 C349.0,231.3 350.0,234.8 349.8,236.5 C349.6,238.2 347.9,241.8 346.5,242.8 C345.1,243.8 341.1,244.6 339.5,244.3 C337.9,244.0 335.7,241.7 334.5,240.5 C333.3,239.3 331.8,236.6 330.5,235.5 C329.2,234.4 326.8,233.6 324.5,232.5 C322.2,231.4 315.3,229.4 313.0,227.5 C310.7,225.6 307.9,220.3 307.0,218.0 C306.1,215.7 305.6,212.8 306.0,210.0 C306.4,207.2 309.0,199.9 310.0,197.0 C311.0,194.1 313.6,189.5 313.5,188.0 C313.4,186.5 310.8,186.3 309.0,186.0 C307.2,185.7 302.4,187.0 300.0,186.0 C297.6,185.0 292.3,181.0 291.0,178.5 C289.7,176.0 289.7,169.3 290.5,167.0 C291.3,164.7 295.1,162.0 297.0,161.5 C298.9,161.0 303.7,163.5 305.0,163.0 C306.3,162.5 306.6,159.7 307.0,158.0 C307.4,156.3 307.7,151.5 308.0,150.0 C308.3,148.5 308.2,148.1 309.0,147.0 C309.8,145.9 313.6,143.4 314.0,142.0 C314.4,140.6 313.0,138.2 312.2,136.6 C311.4,135.0 309.5,131.1 308.0,129.7 C306.5,128.3 303.4,126.6 301.0,125.8 C298.6,125.0 291.9,124.8 290.3,123.5 C288.7,122.2 288.9,118.1 288.8,115.8Z" fill="none" stroke="#98fb98" stroke-width="12" stroke-linejoin="round"/>
<path d="M288.8,115.8 C288.7,113.5 289.1,108.4 289.5,106.0 C289.9,103.6 290.2,99.2 292.0,97.5 C293.8,95.8 300.0,94.2 302.7,93.5 C305.4,92.8 310.1,93.0 312.0,92.5 C313.9,92.0 315.9,90.4 317.0,89.5 C318.1,88.6 320.0,87.0 320.6,85.8 C321.2,84.6 320.7,81.8 321.5,80.5 C322.3,79.2 324.9,76.9 326.8,76.2 C328.7,75.5 332.8,75.8 335.4,75.2 C338.0,74.6 343.4,72.7 346.0,72.0 C348.6,71.3 352.2,70.4 355.0,69.9 C357.8,69.4 363.4,68.5 367.0,68.0 C370.6,67.5 378.3,66.2 382.0,66.5 C385.7,66.8 392.2,68.5 395.0,70.0 C397.8,71.5 401.3,75.6 403.0,78.0 C404.7,80.4 407.1,85.5 408.0,88.0 C408.9,90.5 410.7,94.7 410.0,97.0 C409.3,99.3 403.6,103.5 402.5,105.0 C401.4,106.5 401.7,107.7 402.0,108.5 C402.3,109.3 403.0,110.7 404.8,111.0 C406.6,111.3 412.6,110.6 415.4,111.0 C418.2,111.4 423.9,112.5 426.0,114.2 C428.1,115.9 430.5,121.2 431.4,123.8 C432.3,126.4 433.4,130.8 433.0,133.4 C432.6,136.0 430.1,140.9 428.7,143.0 C427.3,145.1 423.6,147.3 422.3,149.4 C421.0,151.5 419.9,156.6 419.3,159.0 C418.7,161.4 418.2,165.9 418.0,167.5 C417.8,169.1 418.4,170.1 417.5,171.0 C416.6,171.9 413.1,173.3 411.0,174.0 C408.9,174.7 404.5,176.4 402.0,176.5 C399.5,176.6 394.3,175.3 392.0,175.0 C389.7,174.7 386.2,173.6 385.0,174.0 C383.8,174.4 383.1,176.4 383.0,178.0 C382.9,179.6 384.8,184.5 384.5,186.0 C384.2,187.5 382.7,189.2 381.0,189.5 C379.3,189.8 373.6,188.2 372.0,188.5 C370.4,188.8 369.8,190.5 369.0,192.0 C368.2,193.5 367.1,198.0 366.0,200.0 C364.9,202.0 362.5,205.8 361.0,207.0 C359.5,208.2 356.6,208.5 355.0,209.0 C353.4,209.5 350.7,210.5 349.0,211.0 C347.3,211.5 343.1,212.3 342.0,213.0 C340.9,213.7 340.4,215.1 340.5,216.0 C340.6,216.9 342.5,218.6 343.0,220.0 C343.5,221.4 343.8,225.2 344.5,226.5 C345.2,227.8 347.6,228.7 348.3,230.0 C349.0,231.3 350.0,234.8 349.8,236.5 C349.6,238.2 347.9,241.8 346.5,242.8 C345.1,243.8 341.1,244.6 339.5,244.3 C337.9,244.0 335.7,241.7 334.5,240.5 C333.3,239.3 331.8,236.6 330.5,235.5 C329.2,234.4 326.8,233.6 324.5,232.5 C322.2,231.4 315.3,229.4 313.0,227.5 C310.7,225.6 307.9,220.3 307.0,218.0 C306.1,215.7 305.6,212.8 306.0,210.0 C306.4,207.2 309.0,199.9 310.0,197.0 C311.0,194.1 313.6,189.5 313.5,188.0 C313.4,186.5 310.8,186.3 309.0,186.0 C307.2,185.7 302.4,187.0 300.0,186.0 C297.6,185.0 292.3,181.0 291.0,178.5 C289.7,176.0 289.7,169.3 290.5,167.0 C291.3,164.7 295.1,162.0 297.0,161.5 C298.9,161.0 303.7,163.5 305.0,163.0 C306.3,162.5 306.6,159.7 307.0,158.0 C307.4,156.3 307.7,151.5 308.0,150.0 C308.3,148.5 308.2,148.1 309.0,147.0 C309.8,145.9 313.6,143.4 314.0,142.0 C314.4,140.6 313.0,138.2 312.2,136.6 C311.4,135.0 309.5,131.1 308.0,129.7 C306.5,128.3 303.4,126.6 301.0,125.8 C298.6,125.0 291.9,124.8 290.3,123.5 C288.7,122.2 288.9,118.1 288.8,115.8Z" fill="none" stroke="#a6f500" stroke-width="6.5" stroke-linejoin="round"/>
<path d="M288.8,115.8 C288.7,113.5 289.1,108.4 289.5,106.0 C289.9,103.6 290.2,99.2 292.0,97.5 C293.8,95.8 300.0,94.2 302.7,93.5 C305.4,92.8 310.1,93.0 312.0,92.5 C313.9,92.0 315.9,90.4 317.0,89.5 C318.1,88.6 320.0,87.0 320.6,85.8 C321.2,84.6 320.7,81.8 321.5,80.5 C322.3,79.2 324.9,76.9 326.8,76.2 C328.7,75.5 332.8,75.8 335.4,75.2 C338.0,74.6 343.4,72.7 346.0,72.0 C348.6,71.3 352.2,70.4 355.0,69.9 C357.8,69.4 363.4,68.5 367.0,68.0 C370.6,67.5 378.3,66.2 382.0,66.5 C385.7,66.8 392.2,68.5 395.0,70.0 C397.8,71.5 401.3,75.6 403.0,78.0 C404.7,80.4 407.1,85.5 408.0,88.0 C408.9,90.5 410.7,94.7 410.0,97.0 C409.3,99.3 403.6,103.5 402.5,105.0 C401.4,106.5 401.7,107.7 402.0,108.5 C402.3,109.3 403.0,110.7 404.8,111.0 C406.6,111.3 412.6,110.6 415.4,111.0 C418.2,111.4 423.9,112.5 426.0,114.2 C428.1,115.9 430.5,121.2 431.4,123.8 C432.3,126.4 433.4,130.8 433.0,133.4 C432.6,136.0 430.1,140.9 428.7,143.0 C427.3,145.1 423.6,147.3 422.3,149.4 C421.0,151.5 419.9,156.6 419.3,159.0 C418.7,161.4 418.2,165.9 418.0,167.5 C417.8,169.1 418.4,170.1 417.5,171.0 C416.6,171.9 413.1,173.3 411.0,174.0 C408.9,174.7 404.5,176.4 402.0,176.5 C399.5,176.6 394.3,175.3 392.0,175.0 C389.7,174.7 386.2,173.6 385.0,174.0 C383.8,174.4 383.1,176.4 383.0,178.0 C382.9,179.6 384.8,184.5 384.5,186.0 C384.2,187.5 382.7,189.2 381.0,189.5 C379.3,189.8 373.6,188.2 372.0,188.5 C370.4,188.8 369.8,190.5 369.0,192.0 C368.2,193.5 367.1,198.0 366.0,200.0 C364.9,202.0 362.5,205.8 361.0,207.0 C359.5,208.2 356.6,208.5 355.0,209.0 C353.4,209.5 350.7,210.5 349.0,211.0 C347.3,211.5 343.1,212.3 342.0,213.0 C340.9,213.7 340.4,215.1 340.5,216.0 C340.6,216.9 342.5,218.6 343.0,220.0 C343.5,221.4 343.8,225.2 344.5,226.5 C345.2,227.8 347.6,228.7 348.3,230.0 C349.0,231.3 350.0,234.8 349.8,236.5 C349.6,238.2 347.9,241.8 346.5,242.8 C345.1,243.8 341.1,244.6 339.5,244.3 C337.9,244.0 335.7,241.7 334.5,240.5 C333.3,239.3 331.8,236.6 330.5,235.5 C329.2,234.4 326.8,233.6 324.5,232.5 C322.2,231.4 315.3,229.4 313.0,227.5 C310.7,225.6 307.9,220.3 307.0,218.0 C306.1,215.7 305.6,212.8 306.0,210.0 C306.4,207.2 309.0,199.9 310.0,197.0 C311.0,194.1 313.6,189.5 313.5,188.0 C313.4,186.5 310.8,186.3 309.0,186.0 C307.2,185.7 302.4,187.0 300.0,186.0 C297.6,185.0 292.3,181.0 291.0,178.5 C289.7,176.0 289.7,169.3 290.5,167.0 C291.3,164.7 295.1,162.0 297.0,161.5 C298.9,161.0 303.7,163.5 305.0,163.0 C306.3,162.5 306.6,159.7 307.0,158.0 C307.4,156.3 307.7,151.5 308.0,150.0 C308.3,148.5 308.2,148.1 309.0,147.0 C309.8,145.9 313.6,143.4 314.0,142.0 C314.4,140.6 313.0,138.2 312.2,136.6 C311.4,135.0 309.5,131.1 308.0,129.7 C306.5,128.3 303.4,126.6 301.0,125.8 C298.6,125.0 291.9,124.8 290.3,123.5 C288.7,122.2 288.9,118.1 288.8,115.8Z" fill="#3ecb71"/>
<path d="M325.0,53.5 C326.3,52.5 328.8,51.8 331.0,52.0 C333.2,52.2 336.6,53.3 338.0,55.0 C339.4,56.7 339.8,59.5 339.6,62.0 C339.4,64.5 338.4,67.8 337.0,70.0 C335.6,72.2 333.0,74.3 331.0,75.0 C329.0,75.7 326.5,75.5 325.0,74.0 C323.5,72.5 322.3,68.7 322.0,66.0 C321.7,63.3 322.5,60.1 323.0,58.0 C323.5,55.9 323.7,54.5 325.0,53.5Z" fill="#a6f500"/>
<path d="M334.0,61.0 C334.0,62.0 333.8,63.1 333.4,63.9 C333.1,64.7 332.5,65.5 331.9,65.8 C331.4,66.1 330.6,66.1 330.1,65.8 C329.5,65.5 328.9,64.7 328.6,63.9 C328.2,63.1 328.0,62.0 328.0,61.0 C328.0,60.0 328.2,58.9 328.6,58.1 C328.9,57.3 329.5,56.5 330.1,56.2 C330.6,55.9 331.4,55.9 331.9,56.2 C332.5,56.5 333.1,57.3 333.4,58.1 C333.8,58.9 334.0,60.0 334.0,61.0Z" fill="#98fb98"/>
<path d="M253.0,118.0 C253.9,116.0 256.2,115.2 258.0,115.0 C259.8,114.8 262.5,115.3 264.0,116.5 C265.5,117.7 266.7,119.8 267.0,122.0 C267.3,124.2 266.8,127.8 266.0,130.0 C265.2,132.2 263.7,134.3 262.0,135.0 C260.3,135.7 257.6,135.3 256.0,134.0 C254.4,132.7 253.0,129.7 252.5,127.0 C252.0,124.3 252.1,120.0 253.0,118.0Z" fill="#a6f500"/>
<path d="M279.5,256.0 C279.8,253.2 280.9,250.6 283.0,249.0 C285.1,247.4 288.5,246.7 292.0,246.5 C295.5,246.3 300.3,247.1 304.0,248.0 C307.7,248.9 310.7,252.0 314.0,252.0 C317.3,252.0 320.7,248.8 324.0,248.0 C327.3,247.2 331.2,246.3 334.0,247.0 C336.8,247.7 339.7,249.5 341.0,252.0 C342.3,254.5 342.5,259.2 342.0,262.0 C341.5,264.8 340.3,267.4 338.0,269.0 C335.7,270.6 332.0,271.2 328.0,271.5 C324.0,271.8 318.7,271.0 314.0,271.0 C309.3,271.0 304.3,271.5 300.0,271.5 C295.7,271.5 291.2,271.9 288.0,271.0 C284.8,270.1 282.4,268.5 281.0,266.0 C279.6,263.5 279.2,258.8 279.5,256.0Z" fill="none" stroke="#98fb98" stroke-width="9" stroke-linejoin="round"/>
<path d="M279.5,256.0 C279.8,253.2 280.9,250.6 283.0,249.0 C285.1,247.4 288.5,246.7 292.0,246.5 C295.5,246.3 300.3,247.1 304.0,248.0 C307.7,248.9 310.7,252.0 314.0,252.0 C317.3,252.0 320.7,248.8 324.0,248.0 C327.3,247.2 331.2,246.3 334.0,247.0 C336.8,247.7 339.7,249.5 341.0,252.0 C342.3,254.5 342.5,259.2 342.0,262.0 C341.5,264.8 340.3,267.4 338.0,269.0 C335.7,270.6 332.0,271.2 328.0,271.5 C324.0,271.8 318.7,271.0 314.0,271.0 C309.3,271.0 304.3,271.5 300.0,271.5 C295.7,271.5 291.2,271.9 288.0,271.0 C284.8,270.1 282.4,268.5 281.0,266.0 C279.6,263.5 279.2,258.8 279.5,256.0Z" fill="none" stroke="#a6f500" stroke-width="4.5" stroke-linejoin="round"/>
<path d="M279.5,256.0 C279.8,253.2 280.9,250.6 283.0,249.0 C285.1,247.4 288.5,246.7 292.0,246.5 C295.5,246.3 300.3,247.1 304.0,248.0 C307.7,248.9 310.7,252.0 314.0,252.0 C317.3,252.0 320.7,248.8 324.0,248.0 C327.3,247.2 331.2,246.3 334.0,247.0 C336.8,247.7 339.7,249.5 341.0,252.0 C342.3,254.5 342.5,259.2 342.0,262.0 C341.5,264.8 340.3,267.4 338.0,269.0 C335.7,270.6 332.0,271.2 328.0,271.5 C324.0,271.8 318.7,271.0 314.0,271.0 C309.3,271.0 304.3,271.5 300.0,271.5 C295.7,271.5 291.2,271.9 288.0,271.0 C284.8,270.1 282.4,268.5 281.0,266.0 C279.6,263.5 279.2,258.8 279.5,256.0Z" fill="#3ecb71"/>
<path d="M264.2,119.8 C264.2,120.7 263.9,121.7 263.3,122.4 C262.8,123.2 261.9,123.8 261.1,124.1 C260.3,124.4 259.1,124.4 258.3,124.1 C257.5,123.8 256.6,123.2 256.1,122.4 C255.5,121.7 255.2,120.7 255.2,119.8 C255.2,118.9 255.5,117.9 256.1,117.2 C256.6,116.4 257.5,115.8 258.3,115.5 C259.1,115.2 260.3,115.2 261.1,115.5 C261.9,115.8 262.8,116.4 263.3,117.2 C263.9,117.9 264.2,118.9 264.2,119.8Z" fill="#3ecb71"/>
<path d="M262.4,119.8 C262.4,120.3 262.2,121.0 261.9,121.4 C261.6,121.8 261.0,122.2 260.5,122.4 C260.0,122.5 259.4,122.5 258.9,122.4 C258.4,122.2 257.8,121.8 257.5,121.4 C257.2,121.0 257.0,120.3 257.0,119.8 C257.0,119.3 257.2,118.6 257.5,118.2 C257.8,117.8 258.4,117.4 258.9,117.2 C259.4,117.1 260.0,117.1 260.5,117.2 C261.0,117.4 261.6,117.8 261.9,118.2 C262.2,118.6 262.4,119.3 262.4,119.8Z" fill="#379465"/>
<path d="M283.2,62.4 C283.2,63.7 282.7,65.2 282.0,66.2 C281.2,67.3 279.9,68.2 278.7,68.6 C277.5,69.0 275.9,69.0 274.7,68.6 C273.5,68.2 272.2,67.3 271.4,66.2 C270.7,65.2 270.2,63.7 270.2,62.4 C270.2,61.1 270.7,59.6 271.4,58.6 C272.2,57.5 273.5,56.6 274.7,56.2 C275.9,55.8 277.5,55.8 278.7,56.2 C279.9,56.6 281.2,57.5 282.0,58.6 C282.7,59.6 283.2,61.1 283.2,62.4Z" fill="#a6f500"/>
<path d="M281.5,62.4 C281.5,63.3 281.1,64.5 280.6,65.2 C280.0,66.0 279.1,66.7 278.2,67.0 C277.3,67.3 276.1,67.3 275.2,67.0 C274.3,66.7 273.4,66.0 272.8,65.2 C272.3,64.5 271.9,63.3 271.9,62.4 C271.9,61.5 272.3,60.3 272.8,59.6 C273.4,58.8 274.3,58.1 275.2,57.8 C276.1,57.5 277.3,57.5 278.2,57.8 C279.1,58.1 280.0,58.8 280.6,59.6 C281.1,60.3 281.5,61.5 281.5,62.4Z" fill="#3ecb71"/>
<path d="M279.7,62.4 C279.7,63.0 279.5,63.7 279.1,64.2 C278.8,64.6 278.2,65.1 277.6,65.3 C277.1,65.4 276.3,65.4 275.8,65.3 C275.2,65.1 274.6,64.6 274.3,64.2 C273.9,63.7 273.7,63.0 273.7,62.4 C273.7,61.8 273.9,61.1 274.3,60.6 C274.6,60.2 275.2,59.7 275.8,59.5 C276.3,59.4 277.1,59.4 277.6,59.5 C278.2,59.7 278.8,60.2 279.1,60.6 C279.5,61.1 279.7,61.8 279.7,62.4Z" fill="#379465"/>
<path d="M315.5,76.7 C315.5,77.5 315.2,78.4 314.7,79.1 C314.3,79.7 313.5,80.3 312.7,80.5 C312.0,80.7 311.0,80.7 310.3,80.5 C309.5,80.3 308.7,79.7 308.3,79.1 C307.8,78.4 307.5,77.5 307.5,76.7 C307.5,75.9 307.8,75.0 308.3,74.3 C308.7,73.7 309.5,73.1 310.3,72.9 C311.0,72.7 312.0,72.7 312.7,72.9 C313.5,73.1 314.3,73.7 314.7,74.3 C315.2,75.0 315.5,75.9 315.5,76.7Z" fill="#a6f500"/>
<path d="M314.3,76.7 C314.3,77.2 314.1,77.9 313.8,78.3 C313.4,78.8 312.9,79.2 312.4,79.4 C311.8,79.5 311.2,79.5 310.6,79.4 C310.1,79.2 309.6,78.8 309.2,78.3 C308.9,77.9 308.7,77.2 308.7,76.7 C308.7,76.2 308.9,75.5 309.2,75.1 C309.6,74.6 310.1,74.2 310.6,74.0 C311.2,73.9 311.8,73.9 312.4,74.0 C312.9,74.2 313.4,74.6 313.8,75.1 C314.1,75.5 314.3,76.2 314.3,76.7Z" fill="#3ecb71"/>
<path d="M295.0,336.0 C295.3,333.5 296.8,331.0 298.0,330.0 C299.2,329.0 300.9,329.0 302.0,330.0 C303.1,331.0 304.1,333.5 304.5,336.0 C304.9,338.5 305.9,343.5 304.5,345.0 C303.1,346.5 297.6,346.5 296.0,345.0 C294.4,343.5 294.7,338.5 295.0,336.0Z" fill="#a6f500"/>
<path d="M302.5,341.0 C302.5,341.8 302.3,342.7 302.0,343.4 C301.7,344.0 301.2,344.6 300.8,344.8 C300.3,345.0 299.7,345.0 299.2,344.8 C298.8,344.6 298.3,344.0 298.0,343.4 C297.7,342.7 297.5,341.8 297.5,341.0 C297.5,340.2 297.7,339.3 298.0,338.6 C298.3,338.0 298.8,337.4 299.2,337.2 C299.7,337.0 300.3,337.0 300.8,337.2 C301.2,337.4 301.7,338.0 302.0,338.6 C302.3,339.3 302.5,340.2 302.5,341.0Z" fill="#3ecb71"/>
<path d="M352.0,303.0 C352.5,301.8 353.7,300.9 355.0,300.5 C356.3,300.1 357.9,300.1 360.0,300.5 C362.1,300.9 365.5,301.8 367.5,303.0 C369.5,304.2 371.4,306.4 372.0,308.0 C372.6,309.6 371.9,311.3 371.0,312.5 C370.1,313.7 368.7,314.6 366.5,315.0 C364.3,315.4 360.2,315.6 358.0,315.0 C355.8,314.4 354.5,312.8 353.5,311.5 C352.5,310.2 352.2,308.9 352.0,307.5 C351.8,306.1 351.5,304.2 352.0,303.0Z" fill="none" stroke="#fdc50f" stroke-width="15.5" stroke-linejoin="round"/>
<path d="M337.8,276.4 C338.5,274.5 341.5,274.3 342.8,275.0 C344.1,275.7 345.1,278.5 345.6,280.6 C346.1,282.7 344.9,285.9 345.6,287.8 C346.3,289.7 349.7,290.4 349.9,292.0 C350.1,293.6 347.7,295.3 347.0,297.7 C346.3,300.1 345.4,303.4 345.6,306.3 C345.8,309.2 347.0,312.2 348.4,314.8 C349.8,317.4 353.9,320.5 354.1,321.9 C354.4,323.3 351.8,324.2 349.9,323.3 C348.0,322.4 344.5,319.0 342.8,316.2 C341.1,313.4 340.4,309.6 339.9,306.3 C339.4,303.0 340.1,299.6 339.9,296.3 C339.7,293.0 338.9,289.6 338.5,286.3 C338.1,283.0 337.1,278.3 337.8,276.4Z" fill="#fefb9e"/>
<path d="M352.0,303.0 C352.5,301.8 353.7,300.9 355.0,300.5 C356.3,300.1 357.9,300.1 360.0,300.5 C362.1,300.9 365.5,301.8 367.5,303.0 C369.5,304.2 371.4,306.4 372.0,308.0 C372.6,309.6 371.9,311.3 371.0,312.5 C370.1,313.7 368.7,314.6 366.5,315.0 C364.3,315.4 360.2,315.6 358.0,315.0 C355.8,314.4 354.5,312.8 353.5,311.5 C352.5,310.2 352.2,308.9 352.0,307.5 C351.8,306.1 351.5,304.2 352.0,303.0Z" fill="none" stroke="#fefb9e" stroke-width="13" stroke-linejoin="round"/>
<path d="M352.0,303.0 C352.5,301.8 353.7,300.9 355.0,300.5 C356.3,300.1 357.9,300.1 360.0,300.5 C362.1,300.9 365.5,301.8 367.5,303.0 C369.5,304.2 371.4,306.4 372.0,308.0 C372.6,309.6 371.9,311.3 371.0,312.5 C370.1,313.7 368.7,314.6 366.5,315.0 C364.3,315.4 360.2,315.6 358.0,315.0 C355.8,314.4 354.5,312.8 353.5,311.5 C352.5,310.2 352.2,308.9 352.0,307.5 C351.8,306.1 351.5,304.2 352.0,303.0Z" fill="none" stroke="#cdf9ce" stroke-width="9.5" stroke-linejoin="round"/>
<path d="M352.0,303.0 C352.5,301.8 353.7,300.9 355.0,300.5 C356.3,300.1 357.9,300.1 360.0,300.5 C362.1,300.9 365.5,301.8 367.5,303.0 C369.5,304.2 371.4,306.4 372.0,308.0 C372.6,309.6 371.9,311.3 371.0,312.5 C370.1,313.7 368.7,314.6 366.5,315.0 C364.3,315.4 360.2,315.6 358.0,315.0 C355.8,314.4 354.5,312.8 353.5,311.5 C352.5,310.2 352.2,308.9 352.0,307.5 C351.8,306.1 351.5,304.2 352.0,303.0Z" fill="none" stroke="#98fb98" stroke-width="6.5" stroke-linejoin="round"/>
<path d="M352.0,303.0 C352.5,301.8 353.7,300.9 355.0,300.5 C356.3,300.1 357.9,300.1 360.0,300.5 C362.1,300.9 365.5,301.8 367.5,303.0 C369.5,304.2 371.4,306.4 372.0,308.0 C372.6,309.6 371.9,311.3 371.0,312.5 C370.1,313.7 368.7,314.6 366.5,315.0 C364.3,315.4 360.2,315.6 358.0,315.0 C355.8,314.4 354.5,312.8 353.5,311.5 C352.5,310.2 352.2,308.9 352.0,307.5 C351.8,306.1 351.5,304.2 352.0,303.0Z" fill="none" stroke="#a6f500" stroke-width="3.5" stroke-linejoin="round"/>
<path d="M352.0,303.0 C352.5,301.8 353.7,300.9 355.0,300.5 C356.3,300.1 357.9,300.1 360.0,300.5 C362.1,300.9 365.5,301.8 367.5,303.0 C369.5,304.2 371.4,306.4 372.0,308.0 C372.6,309.6 371.9,311.3 371.0,312.5 C370.1,313.7 368.7,314.6 366.5,315.0 C364.3,315.4 360.2,315.6 358.0,315.0 C355.8,314.4 354.5,312.8 353.5,311.5 C352.5,310.2 352.2,308.9 352.0,307.5 C351.8,306.1 351.5,304.2 352.0,303.0Z" fill="#3ecb71"/>
<path d="M354.5,303.5 C354.8,302.1 356.4,301.9 358.0,301.6 C359.6,301.4 362.0,301.4 364.0,302.0 C366.0,302.6 368.2,303.7 370.0,305.0 C371.8,306.3 374.3,308.3 375.0,310.0 C375.7,311.7 375.2,313.8 374.0,315.0 C372.8,316.2 370.2,317.2 368.0,317.0 C365.8,316.8 363.0,315.2 361.0,314.0 C359.0,312.8 357.1,311.8 356.0,310.0 C354.9,308.2 354.2,304.9 354.5,303.5Z" fill="#379465"/>
<path d="M362.0,304.0 C362.3,302.6 364.5,302.4 366.0,302.6 C367.5,302.8 369.5,303.8 371.0,305.0 C372.5,306.2 374.5,308.3 374.8,310.0 C375.1,311.7 374.1,314.1 373.0,315.0 C371.9,315.9 369.5,316.1 368.0,315.4 C366.5,314.7 365.0,312.9 364.0,311.0 C363.0,309.1 361.7,305.4 362.0,304.0Z" fill="#00693a"/>
<path d="M290.3,115.8 C290.2,113.7 290.6,108.9 291.0,106.6 C291.4,104.3 291.8,100.4 293.4,98.9 C295.0,97.4 300.0,95.3 302.7,95.0 C305.4,94.7 311.0,95.8 313.4,96.6 C315.8,97.4 319.7,101.2 321.0,101.0 C322.3,100.8 322.8,97.5 323.0,95.0 C323.2,92.5 321.8,84.8 322.6,82.6 C323.4,80.4 326.7,79.4 329.0,78.4 C331.3,77.4 336.5,75.8 339.6,75.2 C342.7,74.6 348.7,74.2 352.4,73.7 C356.1,73.2 363.3,71.7 367.3,71.2 C371.3,70.7 378.6,69.7 382.3,70.0 C386.0,70.3 392.0,72.0 394.7,73.7 C397.4,75.4 401.0,80.2 402.2,82.4 C403.4,84.6 403.9,88.3 404.0,90.0 C404.1,91.7 403.8,93.6 402.6,95.0 C401.4,96.4 397.2,99.2 395.2,100.3 C393.2,101.4 389.6,102.5 387.7,103.5 C385.8,104.5 383.0,106.8 381.3,107.8 C379.6,108.8 376.4,109.6 375.0,111.0 C373.6,112.4 371.2,115.9 370.5,118.0 C369.8,120.1 369.3,124.5 369.6,127.0 C369.9,129.5 371.4,134.5 372.8,136.6 C374.2,138.7 378.0,141.9 380.3,143.0 C382.6,144.1 387.6,145.3 389.9,145.0 C392.2,144.7 396.6,142.3 397.3,140.8 C398.0,139.3 395.3,135.8 395.2,133.4 C395.1,131.0 396.3,124.9 396.2,122.7 C396.1,120.5 394.4,118.2 394.5,117.0 C394.6,115.8 395.9,114.1 397.0,113.5 C398.1,112.9 400.4,112.6 402.6,112.5 C404.8,112.4 410.4,112.5 413.3,113.0 C416.2,113.5 421.9,114.7 424.0,116.3 C426.1,117.9 428.4,122.6 429.3,124.9 C430.2,127.2 430.8,131.1 430.4,133.4 C430.0,135.7 427.4,140.0 426.0,142.0 C424.6,144.0 421.0,146.0 419.7,148.3 C418.4,150.6 417.1,156.4 416.5,159.0 C415.9,161.6 416.4,166.0 415.4,167.5 C414.4,169.0 410.8,169.8 409.0,170.6 C407.2,171.4 404.2,173.3 401.9,173.5 C399.6,173.7 394.4,172.4 391.9,172.0 C389.4,171.6 385.1,170.2 383.4,170.6 C381.7,171.0 379.8,173.7 379.5,175.0 C379.2,176.3 380.7,179.2 381.0,180.6 C381.3,182.0 382.6,184.8 382.0,185.6 C381.4,186.4 377.8,186.8 376.3,186.8 C374.8,186.8 371.8,185.3 370.6,185.6 C369.4,185.9 368.0,188.1 367.0,189.0 C366.0,189.9 364.4,190.8 363.4,192.0 C362.4,193.2 361.0,195.9 359.7,197.8 C358.4,199.7 354.9,204.8 353.3,206.3 C351.7,207.8 349.2,208.4 347.6,209.0 C346.0,209.6 342.3,210.4 341.0,211.0 C339.7,211.6 338.1,212.7 337.8,213.5 C337.5,214.3 338.6,216.1 339.0,217.0 C339.4,217.9 340.6,219.2 341.0,220.6 C341.4,222.0 341.6,225.8 342.3,227.2 C343.0,228.6 345.6,229.8 346.3,231.0 C347.0,232.2 347.8,235.0 347.6,236.3 C347.4,237.6 346.1,240.1 345.0,240.9 C343.9,241.7 340.9,242.5 339.7,242.2 C338.5,241.9 336.8,240.0 335.8,238.9 C334.8,237.8 333.4,234.9 332.0,233.7 C330.6,232.5 327.9,230.9 325.6,229.8 C323.3,228.7 317.1,227.2 315.0,225.5 C312.9,223.8 310.5,219.0 309.6,217.0 C308.7,215.0 308.1,213.2 308.5,210.6 C308.9,208.0 311.7,201.2 312.8,197.8 C313.9,194.4 317.0,187.2 317.0,185.0 C317.0,182.8 314.1,181.2 313.0,181.0 C311.9,180.8 310.7,182.9 309.0,183.2 C307.3,183.5 302.5,184.1 300.4,183.2 C298.3,182.3 294.0,178.8 293.0,176.8 C292.0,174.8 292.3,170.0 293.0,168.3 C293.7,166.6 296.5,164.3 298.3,164.0 C300.1,163.7 305.3,166.7 306.8,166.2 C308.3,165.7 308.9,162.3 309.5,160.0 C310.1,157.7 310.5,150.7 311.0,149.0 C311.5,147.3 312.5,147.7 313.2,147.0 C313.9,146.3 316.3,145.0 316.5,143.5 C316.7,142.0 315.3,137.9 314.4,135.8 C313.5,133.7 311.3,129.5 309.5,128.0 C307.7,126.5 303.3,125.1 301.0,124.3 C298.7,123.5 293.3,123.1 291.9,122.0 C290.5,120.9 290.4,117.9 290.3,115.8Z" fill="#379465"/>
<path d="M335.0,105.5 C337.1,104.2 342.3,102.6 346.0,102.5 C349.7,102.4 354.7,103.4 357.0,105.0 C359.3,106.6 359.2,109.5 360.0,112.0 C360.8,114.5 361.0,118.0 362.0,120.0 C363.0,122.0 366.0,122.8 366.0,124.0 C366.0,125.2 364.3,126.8 362.0,127.0 C359.7,127.2 355.7,125.8 352.0,125.5 C348.3,125.2 343.0,125.6 340.0,125.0 C337.0,124.4 335.2,123.5 334.0,122.0 C332.8,120.5 333.1,118.0 333.0,116.0 C332.9,114.0 333.2,111.8 333.5,110.0 C333.8,108.2 332.9,106.8 335.0,105.5Z" fill="#3ecb71"/>
<path d="M329.1,125.8 C329.1,126.2 328.9,126.7 328.6,127.1 C328.3,127.4 327.8,127.8 327.3,127.9 C326.8,128.0 326.2,128.0 325.7,127.9 C325.2,127.8 324.7,127.4 324.4,127.1 C324.1,126.7 323.9,126.2 323.9,125.8 C323.9,125.4 324.1,124.9 324.4,124.5 C324.7,124.2 325.2,123.8 325.7,123.7 C326.2,123.6 326.8,123.6 327.3,123.7 C327.8,123.8 328.3,124.2 328.6,124.5 C328.9,124.9 329.1,125.4 329.1,125.8Z" fill="#3ecb71"/>
<path d="M327.7,125.8 C327.7,126.0 327.6,126.2 327.5,126.4 C327.3,126.5 327.1,126.7 326.9,126.8 C326.6,126.8 326.4,126.8 326.1,126.8 C325.9,126.7 325.7,126.5 325.5,126.4 C325.4,126.2 325.3,126.0 325.3,125.8 C325.3,125.6 325.4,125.4 325.5,125.2 C325.7,125.1 325.9,124.9 326.1,124.8 C326.4,124.8 326.6,124.8 326.9,124.8 C327.1,124.9 327.3,125.1 327.5,125.2 C327.6,125.4 327.7,125.6 327.7,125.8Z" fill="#a6f500"/>
<path d="M338.0,106.0 C339.7,104.8 343.0,103.9 346.0,104.0 C349.0,104.1 354.1,104.8 356.0,106.5 C357.9,108.2 358.4,112.0 357.4,114.0 C356.4,116.0 352.9,118.0 350.0,118.5 C347.1,119.0 342.3,118.2 340.0,117.0 C337.7,115.8 336.3,112.8 336.0,111.0 C335.7,109.2 336.3,107.2 338.0,106.0Z" fill="#a6f500"/>
<path d="M340.5,108.0 C341.5,106.5 344.6,105.8 347.0,106.0 C349.4,106.2 353.6,107.5 355.0,109.0 C356.4,110.5 356.7,113.6 355.5,115.0 C354.3,116.4 350.4,117.5 348.0,117.5 C345.6,117.5 342.2,116.6 341.0,115.0 C339.8,113.4 339.5,109.5 340.5,108.0Z" fill="#cdf9ce"/>
<path d="M342.5,109.5 C343.4,108.6 346.2,107.8 348.0,108.0 C349.8,108.2 352.7,109.8 353.5,111.0 C354.3,112.2 354.1,114.2 353.0,115.0 C351.9,115.8 348.8,116.2 347.0,116.0 C345.2,115.8 343.2,114.6 342.5,113.5 C341.8,112.4 341.6,110.4 342.5,109.5Z" fill="#fefb9e"/>
<path d="M379.2,122.7 C380.9,120.9 385.9,117.7 387.7,118.0 C389.5,118.4 390.0,122.3 389.9,124.9 C389.7,127.4 388.3,131.4 386.7,133.4 C385.1,135.3 381.8,137.3 380.3,136.6 C378.7,135.9 377.7,131.4 377.5,129.1 C377.3,126.8 377.5,124.6 379.2,122.7Z" fill="#a6f500"/>
<path d="M411.0,93.0 C408.3,94.9 404.2,101.0 402.6,103.5 C401.0,106.0 401.1,106.2 401.6,107.8 C402.1,109.4 403.5,112.5 405.8,113.0 C408.1,113.5 412.7,110.9 415.4,111.0 C418.1,111.1 420.2,113.8 421.8,113.5 C423.4,113.2 425.1,111.2 425.0,109.0 C424.9,106.8 422.6,103.1 421.5,100.3 C420.4,97.5 420.4,93.2 418.6,92.0 C416.9,90.8 413.7,91.1 411.0,93.0Z" fill="#a6f500"/>
<path d="M407.6,109.5 C407.6,109.9 407.5,110.4 407.3,110.8 C407.0,111.1 406.7,111.5 406.4,111.6 C406.0,111.7 405.6,111.7 405.2,111.6 C404.9,111.5 404.6,111.1 404.3,110.8 C404.1,110.4 404.0,109.9 404.0,109.5 C404.0,109.1 404.1,108.6 404.3,108.2 C404.6,107.9 404.9,107.5 405.2,107.4 C405.6,107.3 406.0,107.3 406.4,107.4 C406.7,107.5 407.0,107.9 407.3,108.2 C407.5,108.6 407.6,109.1 407.6,109.5Z" fill="#98fb98"/>
<path d="M283.0,252.0 C283.9,250.3 285.0,248.8 287.0,248.0 C289.0,247.2 292.5,247.0 295.0,247.5 C297.5,248.0 300.3,249.2 302.0,251.0 C303.7,252.8 304.7,255.5 305.0,258.0 C305.3,260.5 305.2,264.0 304.0,266.0 C302.8,268.0 300.5,269.3 298.0,270.0 C295.5,270.7 291.5,270.8 289.0,270.0 C286.5,269.2 284.2,267.0 283.0,265.0 C281.8,263.0 281.5,260.2 281.5,258.0 C281.5,255.8 282.1,253.7 283.0,252.0Z" fill="#379465"/>
<path d="M316.0,255.0 C317.0,253.2 318.8,250.6 321.0,249.5 C323.2,248.4 326.3,248.3 329.0,248.5 C331.7,248.7 335.0,249.1 337.0,250.5 C339.0,251.9 340.5,254.6 341.0,257.0 C341.5,259.4 341.2,262.9 340.0,265.0 C338.8,267.1 336.5,268.7 334.0,269.5 C331.5,270.3 327.7,270.6 325.0,270.0 C322.3,269.4 319.7,267.7 318.0,266.0 C316.3,264.3 315.3,261.8 315.0,260.0 C314.7,258.2 315.0,256.8 316.0,255.0Z" fill="#379465"/>
<path d="M350.8,212.3 C350.8,213.4 350.3,214.7 349.7,215.5 C349.0,216.4 347.8,217.2 346.7,217.5 C345.5,217.9 344.1,217.9 342.9,217.5 C341.8,217.2 340.6,216.4 339.9,215.5 C339.3,214.7 338.8,213.4 338.8,212.3 C338.8,211.2 339.3,209.9 339.9,209.1 C340.6,208.2 341.8,207.4 342.9,207.1 C344.1,206.7 345.5,206.7 346.7,207.1 C347.8,207.4 349.0,208.2 349.7,209.1 C350.3,209.9 350.8,211.2 350.8,212.3Z" fill="#fefb9e"/>
<path d="M349.0,212.3 C349.0,213.0 348.7,213.9 348.2,214.5 C347.7,215.1 346.9,215.7 346.1,215.9 C345.3,216.1 344.3,216.1 343.5,215.9 C342.7,215.7 341.9,215.1 341.4,214.5 C340.9,213.9 340.6,213.0 340.6,212.3 C340.6,211.6 340.9,210.7 341.4,210.1 C341.9,209.5 342.7,208.9 343.5,208.7 C344.3,208.5 345.3,208.5 346.1,208.7 C346.9,208.9 347.7,209.5 348.2,210.1 C348.7,210.7 349.0,211.6 349.0,212.3Z" fill="#fdc50f"/>
<path d="M347.4,212.3 C347.4,212.8 347.2,213.3 346.9,213.7 C346.6,214.1 346.1,214.4 345.6,214.6 C345.1,214.7 344.5,214.7 344.0,214.6 C343.5,214.4 343.0,214.1 342.7,213.7 C342.4,213.3 342.2,212.8 342.2,212.3 C342.2,211.8 342.4,211.3 342.7,210.9 C343.0,210.5 343.5,210.2 344.0,210.0 C344.5,209.9 345.1,209.9 345.6,210.0 C346.1,210.2 346.6,210.5 346.9,210.9 C347.2,211.3 347.4,211.8 347.4,212.3Z" fill="#fd9a3c"/>
<path d="M333.5,239.2 C333.5,240.5 332.9,242.0 332.1,243.0 C331.2,244.1 329.7,245.0 328.3,245.4 C326.9,245.8 325.1,245.8 323.7,245.4 C322.3,245.0 320.8,244.1 319.9,243.0 C319.1,242.0 318.5,240.5 318.5,239.2 C318.5,237.9 319.1,236.4 319.9,235.4 C320.8,234.3 322.3,233.4 323.7,233.0 C325.1,232.6 326.9,232.6 328.3,233.0 C329.7,233.4 331.2,234.3 332.1,235.4 C332.9,236.4 333.5,237.9 333.5,239.2Z" fill="#cdf9ce"/>
<path d="M331.5,239.2 C331.5,240.2 331.1,241.3 330.4,242.1 C329.8,242.9 328.7,243.7 327.7,244.0 C326.7,244.3 325.3,244.3 324.3,244.0 C323.3,243.7 322.2,242.9 321.6,242.1 C320.9,241.3 320.5,240.2 320.5,239.2 C320.5,238.2 320.9,237.1 321.6,236.3 C322.2,235.5 323.3,234.7 324.3,234.4 C325.3,234.1 326.7,234.1 327.7,234.4 C328.7,234.7 329.8,235.5 330.4,236.3 C331.1,237.1 331.5,238.2 331.5,239.2Z" fill="#fefb9e"/>
<path d="M329.8,239.2 C329.8,239.9 329.5,240.7 329.1,241.2 C328.6,241.7 327.9,242.2 327.2,242.4 C326.5,242.6 325.5,242.6 324.8,242.4 C324.1,242.2 323.4,241.7 322.9,241.2 C322.5,240.7 322.2,239.9 322.2,239.2 C322.2,238.5 322.5,237.7 322.9,237.2 C323.4,236.7 324.1,236.2 324.8,236.0 C325.5,235.8 326.5,235.8 327.2,236.0 C327.9,236.2 328.6,236.7 329.1,237.2 C329.5,237.7 329.8,238.5 329.8,239.2Z" fill="#fdc50f"/>
<path d="M328.4,239.2 C328.4,239.6 328.2,240.1 327.9,240.4 C327.7,240.7 327.2,241.0 326.7,241.1 C326.3,241.2 325.7,241.2 325.3,241.1 C324.8,241.0 324.3,240.7 324.1,240.4 C323.8,240.1 323.6,239.6 323.6,239.2 C323.6,238.8 323.8,238.3 324.1,238.0 C324.3,237.7 324.8,237.4 325.3,237.3 C325.7,237.2 326.3,237.2 326.7,237.3 C327.2,237.4 327.7,237.7 327.9,238.0 C328.2,238.3 328.4,238.8 328.4,239.2Z" fill="#fd9a3c"/>
<path d="M405.1,183.8 C405.1,184.8 404.7,185.9 404.0,186.7 C403.4,187.5 402.3,188.3 401.3,188.6 C400.3,188.9 398.9,188.9 397.9,188.6 C396.9,188.3 395.8,187.5 395.2,186.7 C394.5,185.9 394.1,184.8 394.1,183.8 C394.1,182.8 394.5,181.7 395.2,180.9 C395.8,180.1 396.9,179.3 397.9,179.0 C398.9,178.7 400.3,178.7 401.3,179.0 C402.3,179.3 403.4,180.1 404.0,180.9 C404.7,181.7 405.1,182.8 405.1,183.8Z" fill="#fefb9e"/>
<path d="M402.6,183.8 C402.6,184.4 402.4,185.1 402.0,185.6 C401.7,186.0 401.1,186.5 400.5,186.7 C400.0,186.8 399.2,186.8 398.7,186.7 C398.1,186.5 397.5,186.0 397.2,185.6 C396.8,185.1 396.6,184.4 396.6,183.8 C396.6,183.2 396.8,182.5 397.2,182.0 C397.5,181.6 398.1,181.1 398.7,180.9 C399.2,180.8 400.0,180.8 400.5,180.9 C401.1,181.1 401.7,181.6 402.0,182.0 C402.4,182.5 402.6,183.2 402.6,183.8Z" fill="#fdc50f"/>
<path d="M381.0,196.0 C381.5,195.0 383.5,193.6 385.0,193.6 C386.5,193.6 389.0,194.9 390.0,196.0 C391.0,197.1 391.7,199.2 391.0,200.0 C390.3,200.8 387.5,201.1 386.0,201.0 C384.5,200.9 382.8,200.3 382.0,199.5 C381.2,198.7 380.5,197.0 381.0,196.0Z" fill="#fdc50f"/>
<path d="M336.4,137.3 C337.1,135.3 337.4,131.4 338.9,129.9 C340.4,128.4 343.3,127.4 346.3,127.4 C349.3,127.4 356.4,128.2 358.6,129.9 C360.8,131.6 361.4,136.5 361.0,138.5 C360.6,140.5 356.6,142.1 356.2,143.4 C355.8,144.7 356.4,146.5 358.6,147.0 C360.8,147.5 366.6,147.2 371.0,147.0 C375.4,146.8 384.1,146.0 388.2,145.5 C392.2,145.0 395.6,143.9 398.0,143.5 C400.4,143.1 402.6,142.3 404.0,143.0 C405.4,143.7 406.9,146.1 407.5,148.0 C408.1,149.9 408.1,153.8 407.8,156.0 C407.5,158.2 406.7,161.4 405.5,163.0 C404.3,164.6 402.3,166.3 400.0,166.5 C397.7,166.7 393.3,163.6 390.0,164.0 C386.7,164.4 380.8,168.0 378.3,169.3 C375.8,170.7 376.0,172.9 373.4,173.0 C370.8,173.1 363.8,169.2 361.0,170.0 C358.2,170.8 356.2,175.8 355.0,178.0 C353.8,180.2 353.6,182.0 353.3,185.0 C353.0,188.0 353.9,194.9 353.3,197.8 C352.7,200.7 351.1,202.6 349.0,204.2 C346.9,205.8 341.6,206.6 339.4,208.5 C337.1,210.4 335.8,215.1 334.0,217.0 C332.2,218.9 329.3,221.2 327.7,221.2 C326.1,221.2 324.5,219.9 323.5,217.0 C322.5,214.1 321.8,206.8 321.3,202.0 C320.8,197.2 321.2,188.4 320.3,185.0 C319.4,181.6 316.8,181.9 315.5,179.2 C314.2,176.5 312.2,170.1 311.8,166.8 C311.4,163.5 312.3,159.6 313.0,157.0 C313.7,154.4 314.7,151.3 316.7,149.6 C318.7,147.9 324.0,146.8 326.6,145.9 C329.2,145.0 332.5,144.7 334.0,143.4 C335.5,142.1 335.7,139.3 336.4,137.3Z" fill="#00693a"/>
<path d="M397.8,87.4 C398.2,89.6 397.5,92.5 396.1,94.5 C394.7,96.6 392.1,98.8 389.5,100.0 C386.8,101.1 383.2,101.8 380.3,101.6 C377.5,101.4 374.2,100.3 372.2,98.8 C370.2,97.3 368.6,94.8 368.2,92.6 C367.8,90.4 368.5,87.5 369.9,85.5 C371.3,83.4 373.9,81.2 376.5,80.0 C379.2,78.9 382.8,78.2 385.7,78.4 C388.5,78.6 391.8,79.7 393.8,81.2 C395.8,82.7 397.4,85.2 397.8,87.4Z" fill="#00693a"/>
<path d="M363.2,96.2 C362.5,97.5 361.0,98.7 359.5,99.2 C357.9,99.6 355.7,99.6 354.0,99.1 C352.2,98.7 350.2,97.5 348.9,96.2 C347.6,94.9 346.5,93.1 346.1,91.5 C345.8,89.9 346.0,88.0 346.8,86.8 C347.5,85.5 349.0,84.3 350.5,83.8 C352.1,83.4 354.3,83.4 356.0,83.9 C357.8,84.3 359.8,85.5 361.1,86.8 C362.4,88.1 363.5,89.9 363.9,91.5 C364.2,93.1 364.0,95.0 363.2,96.2Z" fill="#00693a"/>
<path d="M398.5,124.0 C398.8,121.3 400.4,119.2 402.0,118.0 C403.6,116.8 406.2,116.3 408.0,117.0 C409.8,117.7 411.6,119.5 412.5,122.0 C413.4,124.5 413.8,129.2 413.4,132.0 C413.0,134.8 411.6,137.7 410.0,139.0 C408.4,140.3 405.7,140.4 404.0,139.6 C402.3,138.8 400.9,136.6 400.0,134.0 C399.1,131.4 398.2,126.7 398.5,124.0Z" fill="#00693a"/>
<path d="M309.5,109.3 C309.5,110.3 309.1,111.4 308.4,112.2 C307.8,113.0 306.7,113.8 305.7,114.1 C304.7,114.4 303.3,114.4 302.3,114.1 C301.3,113.8 300.2,113.0 299.6,112.2 C298.9,111.4 298.5,110.3 298.5,109.3 C298.5,108.3 298.9,107.2 299.6,106.4 C300.2,105.6 301.3,104.8 302.3,104.5 C303.3,104.2 304.7,104.2 305.7,104.5 C306.7,104.8 307.8,105.6 308.4,106.4 C309.1,107.2 309.5,108.3 309.5,109.3Z" fill="#00693a"/>
<path d="M307.0,152.0 C307.0,153.0 306.7,154.1 306.1,154.9 C305.6,155.7 304.7,156.5 303.9,156.8 C303.1,157.1 301.9,157.1 301.1,156.8 C300.3,156.5 299.4,155.7 298.9,154.9 C298.3,154.1 298.0,153.0 298.0,152.0 C298.0,151.0 298.3,149.9 298.9,149.1 C299.4,148.3 300.3,147.5 301.1,147.2 C301.9,146.9 303.1,146.9 303.9,147.2 C304.7,147.5 305.6,148.3 306.1,149.1 C306.7,149.9 307.0,151.0 307.0,152.0Z" fill="#3ecb71"/>
<path d="M305.5,152.0 C305.5,152.7 305.3,153.5 304.9,154.1 C304.6,154.6 304.0,155.1 303.4,155.3 C302.9,155.5 302.1,155.5 301.6,155.3 C301.0,155.1 300.4,154.6 300.1,154.1 C299.7,153.5 299.5,152.7 299.5,152.0 C299.5,151.3 299.7,150.5 300.1,149.9 C300.4,149.4 301.0,148.9 301.6,148.7 C302.1,148.5 302.9,148.5 303.4,148.7 C304.0,148.9 304.6,149.4 304.9,149.9 C305.3,150.5 305.5,151.3 305.5,152.0Z" fill="#379465"/>
<path d="M298.2,260.3 C298.2,261.5 297.7,263.0 297.0,263.9 C296.2,264.9 294.9,265.8 293.7,266.2 C292.5,266.6 290.9,266.6 289.7,266.2 C288.5,265.8 287.2,264.9 286.4,263.9 C285.7,263.0 285.2,261.5 285.2,260.3 C285.2,259.1 285.7,257.6 286.4,256.7 C287.2,255.7 288.5,254.8 289.7,254.4 C290.9,254.0 292.5,254.0 293.7,254.4 C294.9,254.8 296.2,255.7 297.0,256.7 C297.7,257.6 298.2,259.1 298.2,260.3Z" fill="#00693a"/>
<path d="M333.3,259.3 C333.3,260.4 332.9,261.7 332.2,262.6 C331.6,263.5 330.5,264.3 329.4,264.6 C328.4,265.0 327.0,265.0 326.0,264.6 C324.9,264.3 323.8,263.5 323.2,262.6 C322.5,261.7 322.1,260.4 322.1,259.3 C322.1,258.2 322.5,256.9 323.2,256.0 C323.8,255.1 324.9,254.3 326.0,254.0 C327.0,253.6 328.4,253.6 329.4,254.0 C330.5,254.3 331.6,255.1 332.2,256.0 C332.9,256.9 333.3,258.2 333.3,259.3Z" fill="#00693a"/>
<path d="M392.5,244.1 C395.0,241.8 400.2,241.9 404.9,240.8 C409.6,239.7 414.9,235.1 420.7,237.5 C426.5,239.8 438.8,250.3 439.7,254.9 C440.7,259.5 430.6,261.3 426.5,264.9 C422.3,268.4 417.6,272.9 414.9,276.5 C412.1,280.1 411.3,283.1 409.9,286.4 C408.5,289.7 407.2,293.3 406.6,296.4 C405.9,299.4 406.6,303.3 405.7,304.7 C404.9,306.0 403.1,307.1 401.6,304.7 C400.1,302.2 398.1,294.1 396.6,289.7 C395.1,285.3 393.8,281.7 392.5,278.1 C391.1,274.5 388.7,272.0 388.3,268.2 C387.9,264.3 389.3,258.9 390.0,254.9 C390.7,250.9 390.0,246.5 392.5,244.1Z" fill="#fdc50f"/>
<path d="M394.1,246.6 C396.3,244.7 400.9,244.0 404.9,243.3 C408.9,242.6 414.6,241.6 418.2,242.5 C421.8,243.3 423.4,246.2 426.5,248.3 C429.5,250.3 435.2,253.0 436.4,254.9 C437.7,256.8 435.6,258.3 433.9,259.9 C432.3,261.5 429.6,261.8 426.5,264.5 C423.3,267.3 417.6,272.8 414.9,276.5 C412.1,280.1 411.3,283.2 409.9,286.4 C408.5,289.6 407.8,294.0 406.6,295.5 C405.3,297.1 403.9,296.8 402.4,295.5 C400.9,294.3 399.0,291.1 397.4,288.1 C395.9,285.0 394.5,280.6 393.3,277.3 C392.0,274.0 390.3,271.9 390.0,268.2 C389.7,264.4 390.9,258.5 391.6,254.9 C392.3,251.3 391.9,248.5 394.1,246.6Z" fill="#fefb9e"/>
<path d="M395.3,248.3 C397.3,246.5 401.4,245.6 404.9,245.0 C408.4,244.3 413.2,243.3 416.5,244.1 C419.8,245.0 422.5,248.0 424.8,249.9 C427.2,251.9 430.3,253.7 430.6,255.7 C430.9,257.8 428.5,260.0 426.5,262.4 C424.4,264.7 420.3,267.5 418.2,269.8 C416.0,272.2 414.9,273.8 413.5,276.5 C412.1,279.1 411.1,282.7 409.9,285.6 C408.7,288.5 407.3,292.5 406.2,293.9 C405.1,295.3 404.6,295.0 403.2,293.9 C401.9,292.8 399.8,290.0 398.3,287.2 C396.7,284.5 395.2,280.5 394.1,277.3 C393.0,274.1 391.8,271.8 391.6,268.2 C391.4,264.6 392.4,259.0 393.0,255.7 C393.6,252.4 393.3,250.1 395.3,248.3Z" fill="#cdf9ce"/>
<path d="M396.3,249.9 C398.1,248.3 401.7,247.3 404.9,246.6 C408.1,245.9 412.8,245.0 415.7,245.8 C418.6,246.6 420.5,249.8 422.3,251.6 C424.1,253.4 426.0,254.9 426.5,256.6 C426.9,258.2 426.2,259.6 424.8,261.5 C423.4,263.5 420.1,265.8 418.2,268.2 C416.2,270.5 414.6,272.9 413.2,275.6 C411.8,278.4 410.8,282.0 409.5,284.8 C408.3,287.5 406.7,291.0 405.7,292.2 C404.7,293.5 404.7,293.2 403.6,292.2 C402.5,291.2 400.5,288.9 399.1,286.4 C397.7,283.9 396.0,280.3 395.0,277.3 C393.9,274.2 393.1,271.6 393.0,268.2 C392.8,264.7 393.6,259.6 394.1,256.6 C394.7,253.5 394.5,251.6 396.3,249.9Z" fill="#98fb98"/>
<path d="M415.4,252.4 C415.4,253.7 414.9,255.3 414.0,256.4 C413.2,257.5 411.8,258.5 410.4,258.9 C409.1,259.3 407.3,259.3 406.0,258.9 C404.6,258.5 403.2,257.5 402.4,256.4 C401.5,255.3 401.0,253.7 401.0,252.4 C401.0,251.1 401.5,249.5 402.4,248.4 C403.2,247.3 404.6,246.3 406.0,245.9 C407.3,245.5 409.1,245.5 410.4,245.9 C411.8,246.3 413.2,247.3 414.0,248.4 C414.9,249.5 415.4,251.1 415.4,252.4Z" fill="#a6f500"/>
<path d="M413.2,252.4 C413.2,253.3 412.8,254.5 412.2,255.2 C411.7,256.0 410.7,256.7 409.7,257.0 C408.8,257.3 407.6,257.3 406.7,257.0 C405.7,256.7 404.7,256.0 404.2,255.2 C403.6,254.5 403.2,253.3 403.2,252.4 C403.2,251.5 403.6,250.3 404.2,249.6 C404.7,248.8 405.7,248.1 406.7,247.8 C407.6,247.5 408.8,247.5 409.7,247.8 C410.7,248.1 411.7,248.8 412.2,249.6 C412.8,250.3 413.2,251.5 413.2,252.4Z" fill="#3ecb71"/>
<path d="M411.2,252.4 C411.2,253.0 411.0,253.7 410.6,254.2 C410.3,254.6 409.7,255.1 409.1,255.3 C408.6,255.4 407.8,255.4 407.3,255.3 C406.7,255.1 406.1,254.6 405.8,254.2 C405.4,253.7 405.2,253.0 405.2,252.4 C405.2,251.8 405.4,251.1 405.8,250.6 C406.1,250.2 406.7,249.7 407.3,249.5 C407.8,249.4 408.6,249.4 409.1,249.5 C409.7,249.7 410.3,250.2 410.6,250.6 C411.0,251.1 411.2,251.8 411.2,252.4Z" fill="#379465"/>
<path d="M393.4,262.4 C393.4,262.9 393.2,263.5 392.9,263.9 C392.6,264.3 392.1,264.7 391.6,264.9 C391.1,265.0 390.5,265.0 390.0,264.9 C389.5,264.7 389.0,264.3 388.7,263.9 C388.4,263.5 388.2,262.9 388.2,262.4 C388.2,261.9 388.4,261.3 388.7,260.9 C389.0,260.5 389.5,260.1 390.0,259.9 C390.5,259.8 391.1,259.8 391.6,259.9 C392.1,260.1 392.6,260.5 392.9,260.9 C393.2,261.3 393.4,261.9 393.4,262.4Z" fill="#a6f500"/>
<path d="M428.4,263.2 C428.4,263.7 428.2,264.2 427.9,264.6 C427.5,265.0 427.0,265.3 426.5,265.5 C425.9,265.6 425.3,265.6 424.7,265.5 C424.2,265.3 423.7,265.0 423.3,264.6 C423.0,264.2 422.8,263.7 422.8,263.2 C422.8,262.7 423.0,262.2 423.3,261.8 C423.7,261.4 424.2,261.1 424.7,260.9 C425.3,260.8 425.9,260.8 426.5,260.9 C427.0,261.1 427.5,261.4 427.9,261.8 C428.2,262.2 428.4,262.7 428.4,263.2Z" fill="#a6f500"/>
<path d="M427.1,263.2 C427.1,263.5 427.0,263.8 426.8,264.0 C426.6,264.2 426.3,264.4 426.1,264.4 C425.8,264.5 425.4,264.5 425.1,264.4 C424.9,264.4 424.6,264.2 424.4,264.0 C424.2,263.8 424.1,263.5 424.1,263.2 C424.1,262.9 424.2,262.6 424.4,262.4 C424.6,262.2 424.9,262.0 425.1,262.0 C425.4,261.9 425.8,261.9 426.1,262.0 C426.3,262.0 426.6,262.2 426.8,262.4 C427.0,262.6 427.1,262.9 427.1,263.2Z" fill="#3ecb71"/>
<path d="M405.6,265.7 C405.6,266.3 405.3,267.1 404.8,267.6 C404.4,268.1 403.6,268.5 402.8,268.7 C402.1,268.9 401.1,268.9 400.4,268.7 C399.6,268.5 398.8,268.1 398.4,267.6 C397.9,267.1 397.6,266.3 397.6,265.7 C397.6,265.1 397.9,264.3 398.4,263.8 C398.8,263.3 399.6,262.9 400.4,262.7 C401.1,262.5 402.1,262.5 402.8,262.7 C403.6,262.9 404.4,263.3 404.8,263.8 C405.3,264.3 405.6,265.1 405.6,265.7Z" fill="#cdf9ce"/>
<path d="M404.4,265.7 C404.4,266.1 404.2,266.6 403.9,267.0 C403.5,267.3 403.0,267.7 402.5,267.8 C401.9,267.9 401.3,267.9 400.7,267.8 C400.2,267.7 399.7,267.3 399.3,267.0 C399.0,266.6 398.8,266.1 398.8,265.7 C398.8,265.3 399.0,264.8 399.3,264.4 C399.7,264.1 400.2,263.7 400.7,263.6 C401.3,263.5 401.9,263.5 402.5,263.6 C403.0,263.7 403.5,264.1 403.9,264.4 C404.2,264.8 404.4,265.3 404.4,265.7Z" fill="#fefb9e"/>
<path d="M416.1,269.0 C416.1,269.7 415.8,270.5 415.2,271.1 C414.7,271.7 413.8,272.2 412.9,272.4 C412.1,272.6 410.9,272.6 410.1,272.4 C409.2,272.2 408.3,271.7 407.8,271.1 C407.2,270.5 406.9,269.7 406.9,269.0 C406.9,268.3 407.2,267.5 407.8,266.9 C408.3,266.3 409.2,265.8 410.1,265.6 C410.9,265.4 412.1,265.4 412.9,265.6 C413.8,265.8 414.7,266.3 415.2,266.9 C415.8,267.5 416.1,268.3 416.1,269.0Z" fill="#cdf9ce"/>
<path d="M414.8,269.0 C414.8,269.5 414.5,270.1 414.2,270.5 C413.8,270.9 413.1,271.2 412.5,271.4 C411.9,271.5 411.1,271.5 410.5,271.4 C409.9,271.2 409.2,270.9 408.8,270.5 C408.5,270.1 408.2,269.5 408.2,269.0 C408.2,268.5 408.5,267.9 408.8,267.5 C409.2,267.1 409.9,266.8 410.5,266.6 C411.1,266.5 411.9,266.5 412.5,266.6 C413.1,266.8 413.8,267.1 414.2,267.5 C414.5,267.9 414.8,268.5 414.8,269.0Z" fill="#fefb9e"/>
<path d="M414.9,277.3 C414.9,278.0 414.6,278.8 414.3,279.3 C413.9,279.8 413.2,280.3 412.6,280.5 C411.9,280.7 411.1,280.7 410.4,280.5 C409.8,280.3 409.1,279.8 408.7,279.3 C408.4,278.8 408.1,278.0 408.1,277.3 C408.1,276.6 408.4,275.8 408.7,275.3 C409.1,274.8 409.8,274.3 410.4,274.1 C411.1,273.9 411.9,273.9 412.6,274.1 C413.2,274.3 413.9,274.8 414.3,275.3 C414.6,275.8 414.9,276.6 414.9,277.3Z" fill="#a6f500"/>
<path d="M413.7,277.3 C413.7,277.7 413.5,278.2 413.3,278.6 C413.0,278.9 412.6,279.3 412.2,279.4 C411.8,279.5 411.2,279.5 410.8,279.4 C410.4,279.3 410.0,278.9 409.7,278.6 C409.5,278.2 409.3,277.7 409.3,277.3 C409.3,276.9 409.5,276.4 409.7,276.0 C410.0,275.7 410.4,275.3 410.8,275.2 C411.2,275.1 411.8,275.1 412.2,275.2 C412.6,275.3 413.0,275.7 413.3,276.0 C413.5,276.4 413.7,276.9 413.7,277.3Z" fill="#3ecb71"/>
<path d="M395.3,282.3 C395.8,280.9 397.8,278.6 399.1,278.4 C400.4,278.3 402.0,280.1 402.9,281.4 C403.8,282.8 404.6,285.0 404.6,286.7 C404.5,288.5 403.6,291.1 402.6,291.7 C401.6,292.4 399.7,291.4 398.6,290.6 C397.5,289.7 396.5,287.8 395.9,286.4 C395.4,285.0 394.8,283.6 395.3,282.3Z" fill="#a6f500"/>
<path d="M396.3,282.4 C396.7,281.3 398.1,279.5 399.1,279.4 C400.1,279.4 401.3,280.7 402.1,281.9 C402.8,283.1 403.6,285.1 403.6,286.6 C403.5,288.0 402.7,290.2 401.9,290.7 C401.1,291.2 399.8,290.3 398.9,289.6 C398.1,288.8 397.2,287.3 396.8,286.1 C396.3,284.9 395.9,283.5 396.3,282.4Z" fill="#3ecb71"/>
<path d="M397.1,282.6 C397.4,281.7 398.4,280.5 399.1,280.4 C399.8,280.4 400.8,281.4 401.4,282.4 C402.0,283.4 402.7,285.2 402.7,286.4 C402.7,287.6 402.0,289.3 401.4,289.7 C400.8,290.1 399.9,289.4 399.3,288.7 C398.6,288.1 398.0,286.8 397.6,285.7 C397.2,284.7 396.9,283.5 397.1,282.6Z" fill="#379465"/>
<path d="M271.1,354.8 C271.1,355.2 270.8,355.7 270.4,356.1 C270.0,356.4 269.3,356.8 268.6,356.9 C267.9,357.0 267.1,357.0 266.4,356.9 C265.7,356.8 265.0,356.4 264.6,356.1 C264.2,355.7 263.9,355.2 263.9,354.8 C263.9,354.4 264.2,353.9 264.6,353.5 C265.0,353.2 265.7,352.8 266.4,352.7 C267.1,352.6 267.9,352.6 268.6,352.7 C269.3,352.8 270.0,353.2 270.4,353.5 C270.8,353.9 271.1,354.4 271.1,354.8Z" fill="#fd9a3c"/>
<path d="M435.7,173.2 C436.7,172.1 439.2,171.0 440.7,171.6 C442.2,172.2 444.5,174.8 444.8,176.5 C445.1,178.2 443.4,179.9 442.3,181.5 C441.2,183.1 439.3,185.9 438.2,186.2 C437.1,186.5 436.2,184.5 435.7,183.2 C435.1,181.9 434.9,179.9 434.9,178.2 C434.9,176.5 434.7,174.3 435.7,173.2Z" fill="#f9652e"/>
<path d="M438.2,160.0 C439.4,159.0 442.4,157.9 444.8,158.3 C447.2,158.7 450.6,161.0 452.3,162.4 C454.0,163.8 454.7,165.1 454.8,166.6 C454.9,168.1 454.2,170.4 453.1,171.6 C452.0,172.8 449.8,173.9 448.1,174.0 C446.4,174.1 444.6,173.4 443.1,172.4 C441.6,171.4 440.0,169.6 439.0,168.2 C438.0,166.8 437.4,165.5 437.3,164.1 C437.2,162.7 436.9,161.0 438.2,160.0Z" fill="#f9652e"/>
<path d="M395.9,179.2 C397.0,177.5 399.8,177.5 401.3,177.8 C402.9,178.2 404.6,179.6 405.3,181.4 C406.1,183.2 406.0,185.9 405.9,188.5 C405.7,191.1 404.5,194.2 404.5,197.0 C404.4,199.9 405.7,203.0 405.6,205.6 C405.6,208.2 405.8,211.5 404.2,212.7 C402.5,213.9 397.4,213.4 395.6,212.7 C393.9,212.0 393.5,210.8 393.5,208.4 C393.6,206.0 395.7,201.8 395.9,198.4 C396.1,195.1 394.8,191.7 394.8,188.5 C394.8,185.3 394.8,181.0 395.9,179.2Z" fill="#fefb9e"/>
<path d="M410.6,192.8 C412.1,191.3 415.0,188.7 417.0,188.5 C419.0,188.3 420.9,190.2 422.7,191.3 C424.5,192.5 426.6,194.1 427.7,195.6 C428.7,197.1 429.4,198.6 429.1,200.6 C428.7,202.6 427.1,205.8 425.5,207.7 C424.0,209.6 422.0,211.1 419.8,212.0 C417.7,212.8 414.7,213.0 412.7,212.7 C410.7,212.3 408.8,211.5 407.7,209.8 C406.7,208.2 406.3,204.9 406.3,202.7 C406.3,200.6 407.0,198.7 407.7,197.0 C408.4,195.4 409.0,194.2 410.6,192.8Z" fill="#98fb98"/>
<path d="M427.7,202.7 C427.7,203.1 427.5,203.6 427.3,203.9 C427.0,204.2 426.6,204.5 426.2,204.6 C425.8,204.7 425.2,204.7 424.8,204.6 C424.4,204.5 424.0,204.2 423.7,203.9 C423.5,203.6 423.3,203.1 423.3,202.7 C423.3,202.3 423.5,201.8 423.7,201.5 C424.0,201.2 424.4,200.9 424.8,200.8 C425.2,200.7 425.8,200.7 426.2,200.8 C426.6,200.9 427.0,201.2 427.3,201.5 C427.5,201.8 427.7,202.3 427.7,202.7Z" fill="#a6f500"/>
<path d="M402.9,183.5 C402.9,184.1 402.7,184.8 402.3,185.3 C402.0,185.7 401.4,186.2 400.8,186.4 C400.3,186.5 399.5,186.5 399.0,186.4 C398.4,186.2 397.8,185.7 397.5,185.3 C397.1,184.8 396.9,184.1 396.9,183.5 C396.9,182.9 397.1,182.2 397.5,181.7 C397.8,181.3 398.4,180.8 399.0,180.6 C399.5,180.5 400.3,180.5 400.8,180.6 C401.4,180.8 402.0,181.3 402.3,181.7 C402.7,182.2 402.9,182.9 402.9,183.5Z" fill="#fdc50f"/>
<path d="M512.1,92.0 C512.8,90.9 514.7,90.2 516.3,89.5 C518.0,88.8 520.3,88.2 522.0,88.1 C523.7,87.9 525.5,88.2 526.6,88.8 C527.6,89.3 528.8,90.3 528.4,91.3 C528.0,92.4 525.0,93.4 524.2,94.9 C523.3,96.4 523.8,99.0 523.4,100.6 C523.1,102.1 523.2,103.4 522.0,104.1 C520.8,104.9 517.9,105.2 516.3,104.9 C514.7,104.5 513.1,103.4 512.4,102.0 C511.6,100.6 511.8,98.0 511.8,96.3 C511.7,94.7 511.3,93.2 512.1,92.0Z" fill="#fdc50f"/>
<path d="M516.3,91.3 C516.9,90.4 518.0,89.8 519.2,89.5 C520.4,89.1 522.4,88.9 523.4,89.2 C524.5,89.5 525.5,90.3 525.6,91.3 C525.7,92.4 524.9,94.4 524.2,95.6 C523.4,96.8 522.4,98.1 521.3,98.4 C520.2,98.8 518.6,98.3 517.8,97.7 C516.9,97.1 516.3,96.0 516.1,94.9 C515.8,93.8 515.8,92.2 516.3,91.3Z" fill="#fd9a3c"/>
<path d="M524.2,103.4 C524.7,102.2 526.7,102.0 527.7,102.4 C528.8,102.9 530.2,104.7 530.6,106.3 C531.0,107.9 530.7,110.8 530.1,112.0 C529.5,113.1 527.9,113.7 527.0,113.4 C526.1,113.0 525.1,111.5 524.6,109.8 C524.1,108.2 523.6,104.7 524.2,103.4Z" fill="#fdc50f"/>
<path d="M497.8,94.2 C498.3,93.0 500.3,92.9 501.4,93.0 C502.5,93.2 504.1,94.0 504.7,94.9 C505.3,95.8 505.4,97.5 505.0,98.4 C504.5,99.4 503.2,100.3 502.1,100.6 C501.0,100.8 499.3,100.9 498.6,99.9 C497.8,98.8 497.4,95.3 497.8,94.2Z" fill="#cdf9ce"/>
<path d="M499.3,95.3 C499.6,94.8 501.2,94.3 501.8,94.5 C502.5,94.6 503.2,95.7 503.3,96.3 C503.3,96.9 502.7,97.9 502.1,98.2 C501.5,98.4 500.3,98.4 499.8,97.9 C499.4,97.4 498.9,95.9 499.3,95.3Z" fill="#98fb98"/>
<path d="M513.5,117.7 C514.0,116.8 516.1,116.4 517.0,116.7 C518.0,116.9 519.3,118.1 519.5,119.1 C519.6,120.0 518.6,121.9 517.8,122.3 C516.9,122.8 514.9,122.7 514.2,121.9 C513.5,121.1 513.0,118.5 513.5,117.7Z" fill="#cdf9ce"/>
<path d="M492.2,128.6 C493.1,126.0 496.5,122.9 498.6,122.2 C500.8,121.5 504.1,122.8 505.0,124.4 C505.9,126.0 505.0,129.3 504.0,131.8 C502.9,134.3 500.4,138.2 498.6,139.3 C496.9,140.4 494.4,140.0 493.3,138.2 C492.2,136.5 491.4,131.3 492.2,128.6Z" fill="#fd9a3c"/>
<path d="M467.7,140.4 C468.4,137.9 471.1,134.3 473.0,132.9 C475.0,131.5 478.2,130.9 479.4,131.8 C480.7,132.7 481.2,135.7 480.5,138.2 C479.8,140.7 477.1,145.2 475.2,146.8 C473.2,148.4 470.0,148.9 468.8,147.8 C467.5,146.8 467.0,142.9 467.7,140.4Z" fill="#fd9a3c"/>
<path d="M356.5,59.9 C357.8,58.1 361.2,54.9 363.1,54.1 C365.0,53.3 366.4,54.5 368.1,55.3 C369.7,56.1 371.2,58.0 373.0,59.1 C374.8,60.1 378.0,60.3 378.8,61.6 C379.7,62.8 379.3,65.2 378.0,66.6 C376.8,67.9 373.9,69.0 371.4,69.9 C368.9,70.7 365.4,71.5 363.1,71.5 C360.7,71.5 358.7,71.0 357.3,69.9 C355.9,68.8 354.9,66.6 354.8,64.9 C354.7,63.2 355.1,61.7 356.5,59.9Z" fill="#fefb9e"/>
<path d="M336.6,53.6 C337.9,53.5 341.8,54.0 344.9,54.6 C347.9,55.3 353.3,56.6 354.8,57.4 C356.3,58.3 355.6,59.6 354.0,59.6 C352.3,59.6 347.8,58.1 344.9,57.4 C341.9,56.8 337.9,56.2 336.6,55.6 C335.2,55.0 335.2,53.8 336.6,53.6Z" fill="#fefb9e"/>
<path d="M313.1,335.3 C314.2,332.9 317.3,332.6 320.0,331.9 C322.7,331.2 327.1,330.7 329.2,331.2 C331.4,331.6 332.8,333.1 333.1,334.7 C333.4,336.3 332.4,338.9 331.1,340.8 C329.8,342.8 328.4,345.6 325.4,346.5 C322.4,347.5 315.1,348.4 313.1,346.5 C311.0,344.7 311.9,337.7 313.1,335.3Z" fill="#fdc50f"/>
<path d="M327.2,343.0 C327.2,343.4 327.0,343.9 326.7,344.3 C326.4,344.6 325.9,345.0 325.4,345.1 C324.9,345.2 324.3,345.2 323.8,345.1 C323.3,345.0 322.8,344.6 322.5,344.3 C322.2,343.9 322.0,343.4 322.0,343.0 C322.0,342.6 322.2,342.1 322.5,341.7 C322.8,341.4 323.3,341.0 323.8,340.9 C324.3,340.8 324.9,340.8 325.4,340.9 C325.9,341.0 326.4,341.4 326.7,341.7 C327.0,342.1 327.2,342.6 327.2,343.0Z" fill="#fefb9e"/>
<path d="M360.7,342.0 C360.7,342.5 360.5,343.1 360.1,343.5 C359.7,343.9 359.1,344.3 358.5,344.5 C357.9,344.6 357.1,344.6 356.5,344.5 C355.9,344.3 355.3,343.9 354.9,343.5 C354.5,343.1 354.3,342.5 354.3,342.0 C354.3,341.5 354.5,340.9 354.9,340.5 C355.3,340.1 355.9,339.7 356.5,339.5 C357.1,339.4 357.9,339.4 358.5,339.5 C359.1,339.7 359.7,340.1 360.1,340.5 C360.5,340.9 360.7,341.5 360.7,342.0Z" fill="#cdf9ce"/>
</g>
<path d="M473.0,82.0 L477.0,81.5 L481.0,83.5 L483.5,87.0 L480.0,90.3 L475.0,89.5 L473.3,86.0Z" fill="#d2d2d2" stroke="#666" stroke-width="0.5"/>
<g fill="none" stroke="#0c0c0c" stroke-width="1.15" stroke-linejoin="round">
<path d="M135.0,111.3 L134.0,98.5 L138.3,95.3 L135.0,92.0 L140.4,88.9 L134.0,86.8 L138.3,82.5 L131.9,80.4 L132.9,75.0 L129.7,71.8 L124.4,66.5 L123.3,60.0 L127.6,54.8 L132.9,53.7 L138.3,50.5 L143.6,52.7 L150.0,49.5 L156.4,49.5 L159.6,46.3 L156.4,43.0 L161.7,38.8 L168.1,35.6 L171.3,32.4 L174.5,35.6 L178.8,31.3 L182.0,36.7 L188.4,39.9 L193.7,43.0 L202.7,43.2 L210.4,43.2 L218.0,43.8 L225.8,43.0 L232.0,43.0 L235.8,40.0 L239.6,43.8 L247.3,45.4 L257.9,47.6 L270.0,50.8 L272.3,52.0 L284.7,53.3 L302.0,49.6 L311.8,49.6 L316.7,53.3 L326.6,53.3 L334.0,50.8 L346.3,55.7 L356.2,57.0 L366.0,54.5 L372.2,52.0 L373.4,59.4 L380.8,65.6 L393.1,70.5 L400.5,73.0 L407.9,76.7 L415.0,76.7 L424.8,81.6 L434.7,80.4 L444.5,80.4 L447.0,74.7 L459.3,77.2 L469.2,79.2 L472.9,82.9 L474.0,89.0 L479.0,90.5 L484.0,87.8 L490.0,89.0 L491.4,92.7 L498.8,91.5 L508.6,93.2 L512.0,92.0 L516.3,89.2 L522.0,87.8 L526.3,88.5 L528.4,91.3 L533.4,92.8 L529.0,96.3 L530.6,102.7 L532.7,107.7 L530.6,112.7 L524.9,119.8 L516.3,125.5 L507.8,130.5 L501.2,137.3 L484.0,144.7 L466.7,150.8 L460.0,157.0 L454.8,162.4 L452.3,165.8 L456.4,168.2 L453.1,171.6 L449.0,173.2 L444.8,176.5 L438.2,186.5 L432.4,194.8 L426.6,204.7 L421.6,216.3 L418.6,222.0 L422.3,234.8 L428.5,248.4 L437.1,253.3 L438.4,257.0 L434.5,260.0 L426.0,265.3 L417.4,270.7 L414.2,277.0 L412.0,282.4 L407.8,288.8 L404.6,296.2 L405.7,301.6 L406.8,304.8 L402.5,307.0 L394.0,309.0 L385.4,311.2 L379.0,314.4 L372.6,319.7 L368.4,326.0 L366.2,334.6 L362.0,342.0 L357.7,346.4 L354.5,344.2 L342.8,344.2 L336.4,347.4 L330.0,347.4 L324.0,345.0 L311.8,347.6 L299.4,345.0 L289.6,346.4 L285.0,347.0 L275.8,349.7 L270.2,353.4 L264.7,355.2 L255.5,358.9 L248.1,363.5 L243.5,369.0 L240.7,373.7 L235.1,376.5 L225.9,370.9 L218.5,366.3 L213.9,360.8 L211.2,355.2 L213.9,354.3 L209.3,349.7 L204.7,344.2 L206.5,342.3 L201.9,335.8 L192.7,328.5 L183.5,322.9 L172.4,322.0 L171.6,318.6 L170.4,306.3 L174.0,298.9 L177.8,290.3 L186.4,286.6 L188.9,281.6 L184.0,276.7 L179.0,266.8 L181.5,257.0 L188.9,249.6 L191.4,242.2 L185.2,237.3 L181.5,227.4 L178.5,222.0 L174.0,215.0 L188.9,213.7 L190.0,206.0 L195.0,198.9 L192.6,190.0 L200.0,185.0 L198.7,173.0 L201.2,163.0 L197.5,155.7 L202.4,147.0 L208.6,143.4 L216.0,137.0 L219.7,129.9 L212.3,126.0 L211.5,120.0 L212.3,113.7 L205.0,115.0 L196.3,111.2 L188.9,115.0 L179.0,117.4 L169.2,113.7 L163.8,113.8 L158.5,111.3 L157.4,106.0 L152.1,104.5 L143.6,107.0Z"/>
<path d="M193.8,44.7 L195.0,52.0 L201.2,59.4 L200.0,65.6 L205.0,69.3 L201.2,74.2 L196.3,80.4 L197.5,89.0 L203.7,94.0 L205.0,101.4 L198.8,106.3 L196.3,111.2"/>
<path d="M205.0,69.3 L213.5,66.8 L225.9,63.0 L238.2,66.8 L250.5,64.4 L260.4,60.7 L267.8,59.4 L272.3,59.4"/>
<path d="M274.0,52.5 L272.3,59.4"/>
<path d="M272.3,59.4 L281.0,69.3 L288.4,73.0 L290.8,80.4 L297.0,80.4 L300.7,73.0 L297.0,70.5 L303.0,65.6 L313.0,63.0 L319.2,58.2 L325.3,53.3"/>
<path d="M319.2,58.2 L321.6,63.0 L320.4,69.3 L325.3,73.0 L321.6,79.2 L330.3,82.9 L341.4,86.6 L345.0,90.3 L351.2,94.0 L355.0,98.9 L363.5,105.0 L369.7,107.5"/>
<path d="M366.0,54.5 L358.6,65.6 L352.5,73.0 L350.0,81.6 L346.3,90.3"/>
<path d="M369.7,107.5 L368.5,115.0 L375.9,117.4 L380.8,113.7 L382.0,106.3 L388.2,94.0 L394.4,84.0 L398.0,75.5 L400.5,73.0"/>
<path d="M321.6,79.2 L324.0,90.0 L325.6,102.9 L334.0,113.0 L349.3,116.4 L359.5,114.7 L368.5,115.0"/>
<path d="M331.5,81.5 L336.0,79.5 L341.5,80.5 L342.6,83.0 L338.0,84.5 L333.0,84.0Z"/>
<path d="M368.5,115.0 L366.0,120.0 L364.8,127.4 L359.9,134.8 L355.0,143.4 L358.6,152.0"/>
<path d="M358.6,152.0 L346.3,153.3 L338.9,145.9 L329.0,144.7 L314.2,148.4 L298.2,158.2 L288.0,168.0 L284.5,175.0 L281.9,183.9 L275.7,187.4 L273.9,191.0 L265.0,191.9 L260.0,194.0 L257.9,195.2 L248.0,197.7 L244.4,191.5 L235.7,187.8 L225.9,185.0 L218.5,179.0 L208.6,184.0 L200.0,186.6"/>
<path d="M314.2,148.4 L311.8,157.0 L313.0,166.8 L318.0,181.6 L321.6,191.5 L323.6,197.2 L309.4,201.6 L300.5,204.3 L297.9,207.0 L308.5,199.9 L305.9,198.1 L295.2,194.5 L288.1,191.9 L282.8,189.2 L273.9,191.0"/>
<path d="M358.6,152.0 L368.5,162.0 L374.6,169.3 L368.5,184.0 L375.9,194.0 L381.0,196.5"/>
<path d="M381.0,196.0 L385.0,193.6 L390.0,196.0 L391.0,200.0 L386.0,201.0 L382.0,199.5Z"/>
<path d="M387.1,208.4 L391.4,203.4 L398.5,203.4 L401.3,207.0 L402.8,200.6 L409.9,195.6 L410.6,191.3 L417.0,184.2 L418.4,177.1 L416.0,170.5 L420.8,166.6 L428.2,167.4 L434.9,165.8"/>
<path d="M446.5,74.7 L449.4,91.5 L447.0,106.3 L444.5,116.0 L440.8,123.5 L438.4,132.3 L434.7,142.2 L434.9,150.0 L436.5,156.6 L434.9,165.8 L438.2,171.6 L444.8,175.7"/>
<path d="M387.1,208.4 L386.4,212.7 L380.0,217.0 L377.3,224.7 L388.2,232.0 L389.4,247.0 L396.8,252.0 L398.0,259.4 L393.0,269.3 L395.6,281.6 L400.0,290.0 L405.5,298.9"/>
<path d="M386.0,201.0 L386.5,205.0 L387.1,208.4"/>
<path d="M389.4,247.0 L383.3,257.0 L380.8,265.6 L380.0,269.3 L376.9,275.0 L369.8,273.5 L361.3,277.8 L354.1,282.0 L349.9,288.8"/>
<path d="M349.9,288.8 L352.7,293.4 L361.3,297.7 L362.7,304.8 L368.4,313.4 L372.4,316.5 L372.6,319.5"/>
<path d="M349.9,288.8 L344.2,286.3 L344.9,283.5 L345.6,277.8 L343.5,272.8 L341.3,269.3 L337.0,271.0 L329.7,269.7 L317.2,272.0 L304.8,273.4 L292.3,274.6 L282.4,274.6 L275.0,267.0 L267.4,259.7 L260.4,257.0"/>
<path d="M260.4,257.0 L251.8,259.4 L243.0,270.5 L235.7,276.7 L238.2,280.4 L232.0,280.4 L225.9,286.6 L216.0,290.3 L209.9,285.3 L203.7,286.6 L197.5,282.9 L188.9,280.4"/>
<path d="M245.6,197.7 L246.8,206.3 L251.8,212.5 L253.0,218.6 L257.9,225.0 L266.6,229.9 L270.0,232.3 L267.8,237.3 L260.4,243.4 L264.0,248.4 L260.4,257.0"/>
</g>
<!-- Balearic islands -->
<g stroke="#111" stroke-width="1.3" stroke-linejoin="round">
<clipPath id="mall"><path d="M508,215.8 L513,211.3 L519.5,204.8 L528,199.5 L533.9,198.2 L537.8,197 L535.2,200.8 L535.8,204.8 L540.4,206 L543,204 L547,206.7 L545.6,212.6 L541.7,217.8 L539,223 L534.5,227.6 L531.3,224.3 L526,223.6 L523.5,221.7 L521.5,217.8 L517,217 L514.3,219.7 L511.7,217.8Z"/></clipPath>
<path d="M508,215.8 L513,211.3 L519.5,204.8 L528,199.5 L533.9,198.2 L537.8,197 L535.2,200.8 L535.8,204.8 L540.4,206 L543,204 L547,206.7 L545.6,212.6 L541.7,217.8 L539,223 L534.5,227.6 L531.3,224.3 L526,223.6 L523.5,221.7 L521.5,217.8 L517,217 L514.3,219.7 L511.7,217.8Z" fill="#379465"/>
<g clip-path="url(#mall)" stroke="none">
<ellipse cx="542" cy="211" rx="4.5" ry="6" fill="#00693a"/>
<path d="M509,216.5 L517,210 L523,206 L529,205 L535,210 L538,217 L535,225 L530,226 L524,223 L519,216 L512,218Z" fill="#3ecb71"/>
<path d="M510,216.5 L518,211.5 L523.5,208 L529,207.5 L533.5,212 L535.5,218 L533,224 L529,224.5 L524,222.5 L520,215 L513,217.5Z" fill="#a6f500"/>
<path d="M521,212 L525,209 L529.5,210 L532,214 L533.5,219 L531,223.5 L527,223.5 L524,219Z" fill="#cdf9ce"/>
<path d="M523.5,212 L526.5,210.5 L529.5,212.5 L530.5,217 L530,222 L527,222.5 L525,218Z" fill="#fefb9e"/>
<ellipse cx="526.3" cy="222" rx="2.6" ry="2" fill="#fdc50f"/>
<ellipse cx="525.3" cy="223" rx="1.4" ry="1.1" fill="#fd9a3c"/>
<ellipse cx="514.5" cy="218.6" rx="1.5" ry="1.2" fill="#fd9a3c"/>
</g>
<path d="M556.7,193 L561.2,191 L567,189.8 L571,191.7 L574.3,195.6 L575.3,200.8 L571.7,199.5 L567.8,197 L562.5,196.3 L558.6,197 L557.3,195Z" fill="#00693a"/>
<path d="M530.3,231.8 L531.2,232.6 L530.6,234 L529.9,233Z" fill="#111"/>
<path d="M470.5,244.2 L473.2,243.8 L475.8,240.7 L479.3,238.5 L483.2,237.2 L486.3,239.4 L485.4,242 L482.8,244.7 L480.2,246.9 L478,249.5 L474.9,249 L471.8,248.6 L472.3,246.4Z" fill="#a6f500"/>
<path d="M478.5,240.2 L482.5,238.7 L484.8,240 L483.5,242.3 L480,243.2Z" fill="#3ecb71" stroke="none"/>
<path d="M472.5,246.8 L476,245.5 L478,248.5 L473,248Z" fill="#98fb98" stroke="none"/>
<path d="M479.7,251.7 L480.6,254.3 L478.9,257.4 L481,256 L484,257.4" fill="none" stroke-width="1.1"/>
</g>
<!-- Ceuta / Melilla -->
<circle cx="244.1" cy="382.4" r="2.5" fill="#fda31f" stroke="#fbe9c0" stroke-width="0.7"/>
<circle cx="328.8" cy="410.6" r="2.3" fill="#fefb70" stroke="#333" stroke-width="0.7"/>
<g font-family="Liberation Sans, sans-serif" font-weight="bold" font-size="8.6px" fill="#111" stroke="#e8f3fd" stroke-width="1.2" paint-order="stroke" stroke-linejoin="round">
<text x="245.2" y="381.3">Ce</text>
<text x="330.7" y="407">Ml</text>
</g>
<!-- Canary inset -->
<rect x="0" y="341.3" width="190.6" height="82" fill="#bedffb" stroke="none"/>
<path d="M0,340.8 H190.9 V423" fill="none" stroke="#222d38" stroke-width="1.9"/>


<g stroke="#111" stroke-width="1.2" stroke-linejoin="round">
<path d="M9.2,368.8 L12,366 L17.5,367 L20.3,371.6 L18.5,378 L15.7,383.6 L13.8,380.8 L11,374.4Z" fill="#f9652e"/>
<path d="M14.5,367 L17.5,367.3 L19.8,371.5 L17,371.8 L15,369.5Z" fill="#fd9a3c" stroke="none"/>
<circle cx="17.8" cy="369.2" r="1.1" fill="#fdc50f" stroke="none"/>
<circle cx="38.8" cy="399" r="5" fill="#fefb9e"/>
<path d="M35,396 A5,5 0 0 0 36.5,403 L38.5,399Z" fill="#3ecb71" stroke="none"/>
<path d="M36.8,395 L39,394.6 L39.5,403.4 L37.5,403.2 A5 5 0 0 1 35.2,396.5Z" fill="#98fb98" stroke="none" opacity="0.9"/>
<path d="M41,395.2 A5,5 0 0 1 41.5,402.8 L40.5,399Z" fill="#fd9a3c" stroke="none"/>
<path d="M2.8,414 L8.3,412.2 L12,409.5 L13.8,411.3 L10.2,416 L8.3,418.7 L4.6,417.8Z" fill="#fefb9e"/>
<path d="M50.8,389.2 L59,387.9 L66.5,385.5 L73.8,380 L81.2,378 L82.2,380 L75.7,384.5 L71,392 L67.4,399.3 L61,404.5 L57.2,402 L53.5,394.7Z" fill="#f9652e"/>
<path d="M69,385 L74.5,380.8 L80.5,379 L75,384 L71,388Z" fill="#fd9a3c" stroke="none"/>
<path d="M93.3,407.6 L94.5,402.5 L98,399.3 L100,397.6 L102,399 L105,398 L108.5,399.3 L109,397.3 L110,400.5 L111.5,404 L111.7,409 L109.5,413.5 L105,416.6 L99.5,416.3 L95,413Z" fill="#f9652e"/>
<path d="M97.5,401 L101,399 L105,399 L107.5,401 L104,403 L99,403.5Z" fill="#fd9a3c" stroke="none"/>
<ellipse cx="102.5" cy="400.6" rx="2.4" ry="1.2" fill="#fdc50f" stroke="none"/>
<!-- Lanzarote -->
<clipPath id="lanz"><path d="M168.8,366.4 L170.7,359.6 L176.5,355.9 L182.4,353.8 L185.2,350.0 L182.4,347.0 L184.4,346.4 L187.1,351.9 L186.1,357.7 L181.2,362.5 L174.5,365.4 L170.7,368.3Z"/></clipPath>
<path d="M168.8,366.4 L170.7,359.6 L176.5,355.9 L182.4,353.8 L185.2,350.0 L182.4,347.0 L184.4,346.4 L187.1,351.9 L186.1,357.7 L181.2,362.5 L174.5,365.4 L170.7,368.3Z" fill="#fd9a3c"/>
<g clip-path="url(#lanz)" stroke="none">
<path d="M166,362.5 L187,349.5 L191,356 L172,371Z" fill="#fdc50f"/>
<path d="M166,364.3 L188,351.6 L191,356 L172,371Z" fill="#fefb9e"/>
<path d="M166,366.2 L189,353.6 L191,358 L172,372Z" fill="#a6f500"/>
<path d="M166,368.2 L189,355.8 L191,360 L172,373Z" fill="#3ecb71"/>
<path d="M181,346 L188,346 L188,352 L183,352Z" fill="#f9652e"/>
</g>
<path d="M168.8,366.4 L170.7,359.6 L176.5,355.9 L182.4,353.8 L185.2,350.0 L182.4,347.0 L184.4,346.4 L187.1,351.9 L186.1,357.7 L181.2,362.5 L174.5,365.4 L170.7,368.3Z" fill="none" stroke="#111" stroke-width="0.9"/>
<path d="M182.3,347 L184.6,346.2 L186.4,350.6 L184.8,351Z" fill="#111"/>
<circle cx="183.3" cy="343.2" r="0.7" fill="#111" stroke="none"/>
<!-- Fuerteventura -->
<path d="M164,372 L168.3,371.3 L171.2,372 L170.8,380.6 L170,389 L167.4,395 L160.6,396.9 L155.5,399.4 L151.2,402.8 L146,403.2 L144.4,401 L150.4,398.6 L155.5,394.3 L157.2,388.3 L160.6,380.6 L162.3,374.7Z" fill="#0a0a0a"/>
<path d="M164.3,373 L168.3,372.3 L170.2,373 L169.8,381 L168,384.5 L163,385.5 L161.8,382 L163,376.5Z" fill="#1d8046" stroke="none"/>
</g>
<!-- AEMet logo -->
<rect x="487.4" y="378.8" width="93.2" height="41.6" fill="#fff"/>
<g fill="none" stroke-linecap="round" stroke-linejoin="round">
<path d="M489.6,408.8 C494,398 499,388 503.2,380.8 C504,389 505.5,400 507,409" stroke="#2458d6" stroke-width="1.9"/>
<path d="M490.2,406.8 C493,401 498,397.5 507,396.3 C514,395.4 520,394.4 525.5,393.6" stroke="#f5d90a" stroke-width="1.8"/>
<path d="M537,382.6 L519.4,383.9 L518.6,407.5 L530.2,406.6 M519.2,395.3 L525.8,394.6" stroke="#e02b20" stroke-width="2.2"/>
<path d="M530.6,406.8 C533,399 535.5,392 537.2,387.6 C538,392 538.8,396 539.5,399 C542,395 545,391.5 547,389.2 C546.6,395 546.4,401 546.3,406" stroke="#2458d6" stroke-width="1.9"/>
<path d="M550.3,402 C553.5,401.6 557,400 557.6,397.8 C558,395.8 555.5,395.4 553.6,396.6 C550.8,398.4 549.8,402.6 551.2,405.2 C552.6,407.4 556.5,407 559.4,405.2" stroke="#2458d6" stroke-width="1.8"/>
<path d="M567.8,383.8 C566.4,391 564.8,400 564,406.4 C563.8,408.6 565.6,409 567.6,408.2 M556.6,389.2 C563,388.2 571,388 577.8,388.4" stroke="#2458d6" stroke-width="1.9"/>
</g>
<text x="487.8" y="418.4" font-family="Liberation Sans, sans-serif" font-size="6.15px" fill="#2f62cf" textLength="84.7" lengthAdjust="spacingAndGlyphs">Agencia Estatal de Meteorología</text>


</g>
<!-- title bar bottom white line + black line -->
<rect x="0" y="20" width="650" height="2" fill="#fff"/>
<rect x="0" y="21.8" width="650" height="3.9" fill="#000"/>
<rect x="585" y="25.7" width="64" height="0.8" fill="#fff"/>
<rect x="2" y="25.7" width="578.6" height="0.8" fill="#d9ecfd"/>
<!-- vertical black line -->
<rect x="581" y="25" width="3.5" height="397" fill="#000"/>
<rect x="584.5" y="25.7" width="0.9" height="396" fill="#fff"/>
<!-- legend -->
<g stroke="#8a5a20" stroke-width="0.6">
<rect x="592" y="99" width="20" height="28.3" fill="#00693a"/>
<rect x="592" y="127.3" width="20" height="28.3" fill="#379465"/>
<rect x="592" y="155.6" width="20" height="28.3" fill="#3ecb71"/>
<rect x="592" y="183.9" width="20" height="28.3" fill="#a6f500"/>
<rect x="592" y="212.2" width="20" height="28.3" fill="#98fb98"/>
<rect x="592" y="240.5" width="20" height="28.3" fill="#cdf9ce"/>
<rect x="592" y="268.8" width="20" height="28.3" fill="#fefb9e"/>
<rect x="592" y="297.1" width="20" height="28.3" fill="#fdc50f"/>
<rect x="592" y="325.4" width="20" height="28.3" fill="#fd9a3c"/>
<rect x="592" y="353.7" width="20" height="28.3" fill="#f9642d"/>
</g>
</svg>
<div id="title">% DE LA PRECIPITACIÓN RESPECTO DE LA MEDIA 1991-2020 - AGOSTO 2024</div>
<div id="pct">%</div>
<div class="lg" style="top:121px">300</div>
<div class="lg" style="top:149px">200</div>
<div class="lg" style="top:178px">175</div>
<div class="lg" style="top:206px">150</div>
<div class="lg" style="top:234px">125</div>
<div class="lg" style="top:263px">100</div>
<div class="lg" style="top:291px">75</div>
<div class="lg" style="top:319px">50</div>
<div class="lg" style="top:348px">25</div>
<div class="lg" style="top:376px">0</div>
<div id="frame"></div>
<div style="position:absolute;left:0;top:25.7px;width:1px;height:396.3px;background:#7b90a4;z-index:10"></div>
<div style="position:absolute;left:1px;top:25.7px;width:1px;height:394.3px;background:#e4f2fe;z-index:10"></div>
<div style="position:absolute;left:0;top:339.85px;width:3px;height:1.9px;background:#222d38;z-index:11"></div>
<div style="position:absolute;left:1px;top:419.9px;width:208.5px;height:1.3px;background:#2b3742;z-index:10"></div>
<div style="position:absolute;left:0;top:21.8px;width:650px;height:3.9px;background:#000;z-index:10"></div>
</body></html>
